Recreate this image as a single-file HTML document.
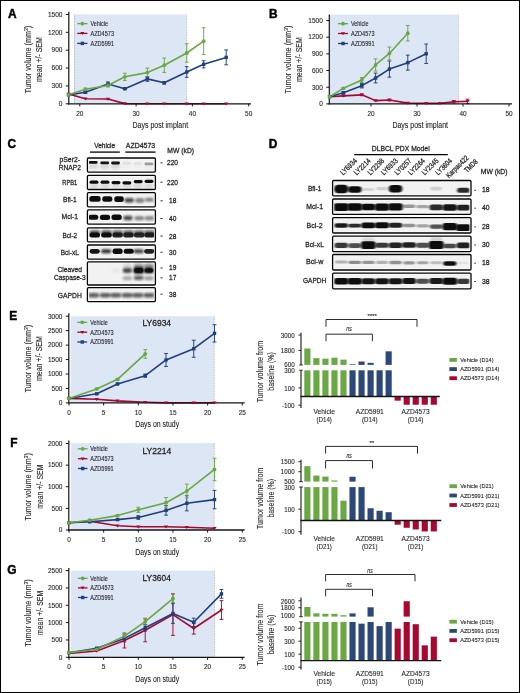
<!DOCTYPE html>
<html><head><meta charset="utf-8"><style>
html,body{margin:0;padding:0;background:#fff;}
body{width:520px;height:693px;overflow:hidden;position:relative;}
svg{position:absolute;left:0;top:0;display:block;opacity:0.999;}
text{font-family:"Liberation Sans", sans-serif;fill:#231f20;stroke:#231f20;stroke-width:0.1px;}
text.ti{stroke-width:0.3px;}
text.bl{stroke-width:0.28px;}
text.it{font-style:italic;stroke-width:0.1px;}
text.pl{fill:#000;stroke:#000;stroke-width:0.45px;}
</style></head><body>
<svg width="520" height="693" viewBox="0 0 520 693">
<defs>
<filter id="b06" x="-50%" y="-100%" width="200%" height="300%"><feGaussianBlur stdDeviation="0.72"/></filter>
<filter id="b07" x="-50%" y="-100%" width="200%" height="300%"><feGaussianBlur stdDeviation="0.7"/></filter>
<filter id="b08" x="-50%" y="-100%" width="200%" height="300%"><feGaussianBlur stdDeviation="0.85"/></filter>
<filter id="bD" x="-50%" y="-100%" width="200%" height="300%"><feGaussianBlur stdDeviation="0.9 0.62"/></filter>
<filter id="b1" x="-50%" y="-100%" width="200%" height="300%"><feGaussianBlur stdDeviation="1.1"/></filter>
<clipPath id="clipC"><rect x="88.9" y="150" width="65" height="160"/></clipPath>
<clipPath id="clipD"><rect x="334.1" y="175" width="135.4" height="120"/></clipPath>
</defs>
<rect x="0" y="0" width="520" height="693" fill="#fff"/>
<rect x="74" y="14.5" width="112.6" height="89.3" fill="#dce6f5"/>
<line x1="74.5" y1="14.5" x2="74.5" y2="103.8" stroke="#8c8c8c" stroke-width="0.6" stroke-dasharray="0.7 0.9"/>
<line x1="186.6" y1="14.5" x2="186.6" y2="103.8" stroke="#8c8c8c" stroke-width="0.6" stroke-dasharray="0.7 0.9"/>
<polyline points="68.54,93.97 85.43,98.8 107.95,99.03 124.84,103.62 147.36,103.8 164.25,103.8 186.77,103.8 203.66,103.8 226.18,103.8" fill="none" stroke="#a8082f" stroke-width="1.6" stroke-linejoin="round"/>
<polyline points="68.54,94.86 85.43,92.3 107.95,84.02 124.84,88.73 147.36,78.9 164.25,82.83 186.77,71.99 203.66,64.31 226.18,57.4" fill="none" stroke="#213f7c" stroke-width="1.6" stroke-linejoin="round"/>
<line x1="85.43" y1="91.41" x2="85.43" y2="93.2" stroke="#213f7c" stroke-width="0.95"/>
<line x1="83.53" y1="91.41" x2="87.33" y2="91.41" stroke="#213f7c" stroke-width="0.95"/>
<line x1="83.53" y1="93.2" x2="87.33" y2="93.2" stroke="#213f7c" stroke-width="0.95"/>
<line x1="107.95" y1="81.94" x2="107.95" y2="86.11" stroke="#213f7c" stroke-width="0.95"/>
<line x1="106.05" y1="81.94" x2="109.85" y2="81.94" stroke="#213f7c" stroke-width="0.95"/>
<line x1="106.05" y1="86.11" x2="109.85" y2="86.11" stroke="#213f7c" stroke-width="0.95"/>
<line x1="124.84" y1="87.84" x2="124.84" y2="89.62" stroke="#213f7c" stroke-width="0.95"/>
<line x1="122.94" y1="87.84" x2="126.74" y2="87.84" stroke="#213f7c" stroke-width="0.95"/>
<line x1="122.94" y1="89.62" x2="126.74" y2="89.62" stroke="#213f7c" stroke-width="0.95"/>
<line x1="147.36" y1="76.52" x2="147.36" y2="81.28" stroke="#213f7c" stroke-width="0.95"/>
<line x1="145.46" y1="76.52" x2="149.26" y2="76.52" stroke="#213f7c" stroke-width="0.95"/>
<line x1="145.46" y1="81.28" x2="149.26" y2="81.28" stroke="#213f7c" stroke-width="0.95"/>
<line x1="164.25" y1="81.64" x2="164.25" y2="84.02" stroke="#213f7c" stroke-width="0.95"/>
<line x1="162.35" y1="81.64" x2="166.15" y2="81.64" stroke="#213f7c" stroke-width="0.95"/>
<line x1="162.35" y1="84.02" x2="166.15" y2="84.02" stroke="#213f7c" stroke-width="0.95"/>
<line x1="186.77" y1="66.63" x2="186.77" y2="77.35" stroke="#213f7c" stroke-width="0.95"/>
<line x1="184.87" y1="66.63" x2="188.67" y2="66.63" stroke="#213f7c" stroke-width="0.95"/>
<line x1="184.87" y1="77.35" x2="188.67" y2="77.35" stroke="#213f7c" stroke-width="0.95"/>
<line x1="203.66" y1="60.73" x2="203.66" y2="67.88" stroke="#213f7c" stroke-width="0.95"/>
<line x1="201.76" y1="60.73" x2="205.56" y2="60.73" stroke="#213f7c" stroke-width="0.95"/>
<line x1="201.76" y1="67.88" x2="205.56" y2="67.88" stroke="#213f7c" stroke-width="0.95"/>
<line x1="226.18" y1="49.95" x2="226.18" y2="64.84" stroke="#213f7c" stroke-width="0.95"/>
<line x1="224.28" y1="49.95" x2="228.08" y2="49.95" stroke="#213f7c" stroke-width="0.95"/>
<line x1="224.28" y1="64.84" x2="228.08" y2="64.84" stroke="#213f7c" stroke-width="0.95"/>
<polyline points="68.54,94.86 85.43,89.33 107.95,85.45 124.84,76.82 147.36,72.59 164.25,65.2 186.77,52.99 203.66,41.2" fill="none" stroke="#6aa843" stroke-width="1.6" stroke-linejoin="round"/>
<line x1="85.43" y1="88.01" x2="85.43" y2="90.64" stroke="#6aa843" stroke-width="0.95"/>
<line x1="83.53" y1="88.01" x2="87.33" y2="88.01" stroke="#6aa843" stroke-width="0.95"/>
<line x1="83.53" y1="90.64" x2="87.33" y2="90.64" stroke="#6aa843" stroke-width="0.95"/>
<line x1="107.95" y1="83.96" x2="107.95" y2="86.94" stroke="#6aa843" stroke-width="0.95"/>
<line x1="106.05" y1="83.96" x2="109.85" y2="83.96" stroke="#6aa843" stroke-width="0.95"/>
<line x1="106.05" y1="86.94" x2="109.85" y2="86.94" stroke="#6aa843" stroke-width="0.95"/>
<line x1="124.84" y1="73.24" x2="124.84" y2="80.39" stroke="#6aa843" stroke-width="0.95"/>
<line x1="122.94" y1="73.24" x2="126.74" y2="73.24" stroke="#6aa843" stroke-width="0.95"/>
<line x1="122.94" y1="80.39" x2="126.74" y2="80.39" stroke="#6aa843" stroke-width="0.95"/>
<line x1="147.36" y1="68.12" x2="147.36" y2="77.05" stroke="#6aa843" stroke-width="0.95"/>
<line x1="145.46" y1="68.12" x2="149.26" y2="68.12" stroke="#6aa843" stroke-width="0.95"/>
<line x1="145.46" y1="77.05" x2="149.26" y2="77.05" stroke="#6aa843" stroke-width="0.95"/>
<line x1="164.25" y1="58.05" x2="164.25" y2="72.35" stroke="#6aa843" stroke-width="0.95"/>
<line x1="162.35" y1="58.05" x2="166.15" y2="58.05" stroke="#6aa843" stroke-width="0.95"/>
<line x1="162.35" y1="72.35" x2="166.15" y2="72.35" stroke="#6aa843" stroke-width="0.95"/>
<line x1="186.77" y1="43.76" x2="186.77" y2="62.22" stroke="#6aa843" stroke-width="0.95"/>
<line x1="184.87" y1="43.76" x2="188.67" y2="43.76" stroke="#6aa843" stroke-width="0.95"/>
<line x1="184.87" y1="62.22" x2="188.67" y2="62.22" stroke="#6aa843" stroke-width="0.95"/>
<line x1="203.66" y1="27.79" x2="203.66" y2="54.6" stroke="#6aa843" stroke-width="0.95"/>
<line x1="201.76" y1="27.79" x2="205.56" y2="27.79" stroke="#6aa843" stroke-width="0.95"/>
<line x1="201.76" y1="54.6" x2="205.56" y2="54.6" stroke="#6aa843" stroke-width="0.95"/>
<line x1="68.8" y1="11.8" x2="68.8" y2="104.4" stroke="#141414" stroke-width="1.2"/>
<line x1="68.2" y1="103.8" x2="251" y2="103.8" stroke="#141414" stroke-width="1.3"/>
<polygon points="66.44,92.67 70.64,92.67 68.54,95.67" fill="#a8082f"/>
<polygon points="83.33,97.5 87.53,97.5 85.43,100.5" fill="#a8082f"/>
<polygon points="105.85,97.73 110.05,97.73 107.95,100.73" fill="#a8082f"/>
<polygon points="122.74,102.32 126.94,102.32 124.84,105.32" fill="#a8082f"/>
<polygon points="145.26,102.5 149.46,102.5 147.36,105.5" fill="#a8082f"/>
<polygon points="162.15,102.5 166.35,102.5 164.25,105.5" fill="#a8082f"/>
<polygon points="184.67,102.5 188.87,102.5 186.77,105.5" fill="#a8082f"/>
<polygon points="201.56,102.5 205.76,102.5 203.66,105.5" fill="#a8082f"/>
<polygon points="224.08,102.5 228.28,102.5 226.18,105.5" fill="#a8082f"/>
<rect x="66.84" y="93.16" width="3.4" height="3.4" fill="#213f7c"/>
<rect x="83.73" y="90.6" width="3.4" height="3.4" fill="#213f7c"/>
<rect x="106.25" y="82.32" width="3.4" height="3.4" fill="#213f7c"/>
<rect x="123.14" y="87.03" width="3.4" height="3.4" fill="#213f7c"/>
<rect x="145.66" y="77.2" width="3.4" height="3.4" fill="#213f7c"/>
<rect x="162.55" y="81.13" width="3.4" height="3.4" fill="#213f7c"/>
<rect x="185.07" y="70.29" width="3.4" height="3.4" fill="#213f7c"/>
<rect x="201.96" y="62.61" width="3.4" height="3.4" fill="#213f7c"/>
<rect x="224.48" y="55.7" width="3.4" height="3.4" fill="#213f7c"/>
<circle cx="68.54" cy="94.86" r="1.9" fill="#6aa843"/>
<circle cx="85.43" cy="89.33" r="1.9" fill="#6aa843"/>
<circle cx="107.95" cy="85.45" r="1.9" fill="#6aa843"/>
<circle cx="124.84" cy="76.82" r="1.9" fill="#6aa843"/>
<circle cx="147.36" cy="72.59" r="1.9" fill="#6aa843"/>
<circle cx="164.25" cy="65.2" r="1.9" fill="#6aa843"/>
<circle cx="186.77" cy="52.99" r="1.9" fill="#6aa843"/>
<circle cx="203.66" cy="41.2" r="1.9" fill="#6aa843"/>
<line x1="65.8" y1="103.8" x2="68.8" y2="103.8" stroke="#141414" stroke-width="1.0"/>
<text x="62.4" y="106.1" font-size="6.6" text-anchor="end" textLength="3.62" lengthAdjust="spacingAndGlyphs">0</text>
<line x1="65.8" y1="85.93" x2="68.8" y2="85.93" stroke="#141414" stroke-width="1.0"/>
<text x="62.4" y="88.23" font-size="6.6" text-anchor="end" textLength="10.86" lengthAdjust="spacingAndGlyphs">300</text>
<line x1="65.8" y1="68.06" x2="68.8" y2="68.06" stroke="#141414" stroke-width="1.0"/>
<text x="62.4" y="70.36" font-size="6.6" text-anchor="end" textLength="10.86" lengthAdjust="spacingAndGlyphs">600</text>
<line x1="65.8" y1="50.19" x2="68.8" y2="50.19" stroke="#141414" stroke-width="1.0"/>
<text x="62.4" y="52.49" font-size="6.6" text-anchor="end" textLength="10.86" lengthAdjust="spacingAndGlyphs">900</text>
<line x1="65.8" y1="32.32" x2="68.8" y2="32.32" stroke="#141414" stroke-width="1.0"/>
<text x="62.4" y="34.62" font-size="6.6" text-anchor="end" textLength="14.48" lengthAdjust="spacingAndGlyphs">1200</text>
<line x1="65.8" y1="14.45" x2="68.8" y2="14.45" stroke="#141414" stroke-width="1.0"/>
<text x="62.4" y="16.75" font-size="6.6" text-anchor="end" textLength="14.48" lengthAdjust="spacingAndGlyphs">1500</text>
<line x1="79.8" y1="103.8" x2="79.8" y2="106.4" stroke="#141414" stroke-width="1.0"/>
<text x="79.8" y="116.3" font-size="6.6" text-anchor="middle" textLength="7.2" lengthAdjust="spacingAndGlyphs">20</text>
<line x1="136.1" y1="103.8" x2="136.1" y2="106.4" stroke="#141414" stroke-width="1.0"/>
<text x="136.1" y="116.3" font-size="6.6" text-anchor="middle" textLength="7.2" lengthAdjust="spacingAndGlyphs">30</text>
<line x1="192.4" y1="103.8" x2="192.4" y2="106.4" stroke="#141414" stroke-width="1.0"/>
<text x="192.4" y="116.3" font-size="6.6" text-anchor="middle" textLength="7.2" lengthAdjust="spacingAndGlyphs">40</text>
<line x1="248.7" y1="103.8" x2="248.7" y2="106.4" stroke="#141414" stroke-width="1.0"/>
<text x="248.7" y="116.3" font-size="6.6" text-anchor="middle" textLength="7.2" lengthAdjust="spacingAndGlyphs">50</text>
<text x="160.3" y="128.2" font-size="8.2" text-anchor="middle" textLength="55.6" lengthAdjust="spacingAndGlyphs">Days post implant</text>
<text x="31.1" y="59.6" font-size="8.2" text-anchor="middle" textLength="67.5" lengthAdjust="spacingAndGlyphs" transform="rotate(-90 31.1 59.6)">Tumor volume (mm<tspan dy="-2.7" font-size="5.6">3</tspan><tspan dy="2.7">)</tspan></text>
<text x="42.1" y="59.6" font-size="8.2" text-anchor="middle" textLength="45" lengthAdjust="spacingAndGlyphs" transform="rotate(-90 42.1 59.6)">mean +/- SEM</text>
<line x1="77.2" y1="23.6" x2="87.5" y2="23.6" stroke="#6aa843" stroke-width="1.3"/>
<circle cx="82.35" cy="23.6" r="1.9" fill="#6aa843"/>
<text x="90.5" y="25.9" font-size="6.6" textLength="17.5" lengthAdjust="spacingAndGlyphs">Vehicle</text>
<line x1="77.2" y1="33.4" x2="87.5" y2="33.4" stroke="#a8082f" stroke-width="1.3"/>
<polygon points="80.25,32.1 84.45,32.1 82.35,35.1" fill="#a8082f"/>
<text x="90.5" y="35.7" font-size="6.6" textLength="23.5" lengthAdjust="spacingAndGlyphs">AZD4573</text>
<line x1="77.2" y1="43.4" x2="87.5" y2="43.4" stroke="#213f7c" stroke-width="1.3"/>
<rect x="80.65" y="41.7" width="3.4" height="3.4" fill="#213f7c"/>
<text x="90.5" y="45.7" font-size="6.6" textLength="23.5" lengthAdjust="spacingAndGlyphs">AZD5991</text>
<rect x="330" y="14.6" width="128.5" height="89.3" fill="#dce6f5"/>
<line x1="458.5" y1="14.6" x2="458.5" y2="103.9" stroke="#8c8c8c" stroke-width="0.6" stroke-dasharray="0.7 0.9"/>
<polyline points="329.6,96.73 343.4,95.84 361.8,94.84 375.6,100.62 389.4,100.01 407.8,103.12 426.2,103.34 440,103.34 453.8,101.68 467.6,101.4" fill="none" stroke="#a8082f" stroke-width="1.6" stroke-linejoin="round"/>
<line x1="343.4" y1="95.28" x2="343.4" y2="96.39" stroke="#a8082f" stroke-width="0.95"/>
<line x1="341.5" y1="95.28" x2="345.3" y2="95.28" stroke="#a8082f" stroke-width="0.95"/>
<line x1="341.5" y1="96.39" x2="345.3" y2="96.39" stroke="#a8082f" stroke-width="0.95"/>
<line x1="361.8" y1="94" x2="361.8" y2="95.67" stroke="#a8082f" stroke-width="0.95"/>
<line x1="359.9" y1="94" x2="363.7" y2="94" stroke="#a8082f" stroke-width="0.95"/>
<line x1="359.9" y1="95.67" x2="363.7" y2="95.67" stroke="#a8082f" stroke-width="0.95"/>
<line x1="375.6" y1="100.34" x2="375.6" y2="100.9" stroke="#a8082f" stroke-width="0.95"/>
<line x1="373.7" y1="100.34" x2="377.5" y2="100.34" stroke="#a8082f" stroke-width="0.95"/>
<line x1="373.7" y1="100.9" x2="377.5" y2="100.9" stroke="#a8082f" stroke-width="0.95"/>
<line x1="389.4" y1="99.17" x2="389.4" y2="100.84" stroke="#a8082f" stroke-width="0.95"/>
<line x1="387.5" y1="99.17" x2="391.3" y2="99.17" stroke="#a8082f" stroke-width="0.95"/>
<line x1="387.5" y1="100.84" x2="391.3" y2="100.84" stroke="#a8082f" stroke-width="0.95"/>
<line x1="453.8" y1="100.56" x2="453.8" y2="102.79" stroke="#a8082f" stroke-width="0.95"/>
<line x1="451.9" y1="100.56" x2="455.7" y2="100.56" stroke="#a8082f" stroke-width="0.95"/>
<line x1="451.9" y1="102.79" x2="455.7" y2="102.79" stroke="#a8082f" stroke-width="0.95"/>
<line x1="467.6" y1="99.17" x2="467.6" y2="103.62" stroke="#a8082f" stroke-width="0.95"/>
<line x1="465.7" y1="99.17" x2="469.5" y2="99.17" stroke="#a8082f" stroke-width="0.95"/>
<line x1="465.7" y1="103.62" x2="469.5" y2="103.62" stroke="#a8082f" stroke-width="0.95"/>
<polyline points="329.6,96.73 343.4,92.72 361.8,85.66 375.6,77.99 389.4,69.09 407.8,62.64 426.2,53.75" fill="none" stroke="#213f7c" stroke-width="1.6" stroke-linejoin="round"/>
<line x1="343.4" y1="91.61" x2="343.4" y2="93.84" stroke="#213f7c" stroke-width="0.95"/>
<line x1="341.5" y1="91.61" x2="345.3" y2="91.61" stroke="#213f7c" stroke-width="0.95"/>
<line x1="341.5" y1="93.84" x2="345.3" y2="93.84" stroke="#213f7c" stroke-width="0.95"/>
<line x1="361.8" y1="83.44" x2="361.8" y2="87.89" stroke="#213f7c" stroke-width="0.95"/>
<line x1="359.9" y1="83.44" x2="363.7" y2="83.44" stroke="#213f7c" stroke-width="0.95"/>
<line x1="359.9" y1="87.89" x2="363.7" y2="87.89" stroke="#213f7c" stroke-width="0.95"/>
<line x1="375.6" y1="73.1" x2="375.6" y2="82.88" stroke="#213f7c" stroke-width="0.95"/>
<line x1="373.7" y1="73.1" x2="377.5" y2="73.1" stroke="#213f7c" stroke-width="0.95"/>
<line x1="373.7" y1="82.88" x2="377.5" y2="82.88" stroke="#213f7c" stroke-width="0.95"/>
<line x1="389.4" y1="61.03" x2="389.4" y2="77.16" stroke="#213f7c" stroke-width="0.95"/>
<line x1="387.5" y1="61.03" x2="391.3" y2="61.03" stroke="#213f7c" stroke-width="0.95"/>
<line x1="387.5" y1="77.16" x2="391.3" y2="77.16" stroke="#213f7c" stroke-width="0.95"/>
<line x1="407.8" y1="55.14" x2="407.8" y2="70.15" stroke="#213f7c" stroke-width="0.95"/>
<line x1="405.9" y1="55.14" x2="409.7" y2="55.14" stroke="#213f7c" stroke-width="0.95"/>
<line x1="405.9" y1="70.15" x2="409.7" y2="70.15" stroke="#213f7c" stroke-width="0.95"/>
<line x1="426.2" y1="44.02" x2="426.2" y2="63.48" stroke="#213f7c" stroke-width="0.95"/>
<line x1="424.3" y1="44.02" x2="428.1" y2="44.02" stroke="#213f7c" stroke-width="0.95"/>
<line x1="424.3" y1="63.48" x2="428.1" y2="63.48" stroke="#213f7c" stroke-width="0.95"/>
<polyline points="329.6,96.73 343.4,88.33 361.8,79.99 375.6,64.92 389.4,53.47 407.8,33.23" fill="none" stroke="#6aa843" stroke-width="1.6" stroke-linejoin="round"/>
<line x1="343.4" y1="87.5" x2="343.4" y2="89.17" stroke="#6aa843" stroke-width="0.95"/>
<line x1="341.5" y1="87.5" x2="345.3" y2="87.5" stroke="#6aa843" stroke-width="0.95"/>
<line x1="341.5" y1="89.17" x2="345.3" y2="89.17" stroke="#6aa843" stroke-width="0.95"/>
<line x1="361.8" y1="77.49" x2="361.8" y2="82.49" stroke="#6aa843" stroke-width="0.95"/>
<line x1="359.9" y1="77.49" x2="363.7" y2="77.49" stroke="#6aa843" stroke-width="0.95"/>
<line x1="359.9" y1="82.49" x2="363.7" y2="82.49" stroke="#6aa843" stroke-width="0.95"/>
<line x1="375.6" y1="58.81" x2="375.6" y2="71.04" stroke="#6aa843" stroke-width="0.95"/>
<line x1="373.7" y1="58.81" x2="377.5" y2="58.81" stroke="#6aa843" stroke-width="0.95"/>
<line x1="373.7" y1="71.04" x2="377.5" y2="71.04" stroke="#6aa843" stroke-width="0.95"/>
<line x1="389.4" y1="47.08" x2="389.4" y2="59.86" stroke="#6aa843" stroke-width="0.95"/>
<line x1="387.5" y1="47.08" x2="391.3" y2="47.08" stroke="#6aa843" stroke-width="0.95"/>
<line x1="387.5" y1="59.86" x2="391.3" y2="59.86" stroke="#6aa843" stroke-width="0.95"/>
<line x1="407.8" y1="25.45" x2="407.8" y2="41.02" stroke="#6aa843" stroke-width="0.95"/>
<line x1="405.9" y1="25.45" x2="409.7" y2="25.45" stroke="#6aa843" stroke-width="0.95"/>
<line x1="405.9" y1="41.02" x2="409.7" y2="41.02" stroke="#6aa843" stroke-width="0.95"/>
<line x1="329.3" y1="14.4" x2="329.3" y2="104.5" stroke="#141414" stroke-width="1.2"/>
<line x1="328.7" y1="103.9" x2="512" y2="103.9" stroke="#141414" stroke-width="1.3"/>
<polygon points="327.5,95.43 331.7,95.43 329.6,98.43" fill="#a8082f"/>
<polygon points="341.3,94.54 345.5,94.54 343.4,97.54" fill="#a8082f"/>
<polygon points="359.7,93.54 363.9,93.54 361.8,96.54" fill="#a8082f"/>
<polygon points="373.5,99.32 377.7,99.32 375.6,102.32" fill="#a8082f"/>
<polygon points="387.3,98.71 391.5,98.71 389.4,101.71" fill="#a8082f"/>
<polygon points="405.7,101.82 409.9,101.82 407.8,104.82" fill="#a8082f"/>
<polygon points="424.1,102.04 428.3,102.04 426.2,105.04" fill="#a8082f"/>
<polygon points="437.9,102.04 442.1,102.04 440,105.04" fill="#a8082f"/>
<polygon points="451.7,100.38 455.9,100.38 453.8,103.38" fill="#a8082f"/>
<polygon points="465.5,100.1 469.7,100.1 467.6,103.1" fill="#a8082f"/>
<rect x="327.9" y="95.03" width="3.4" height="3.4" fill="#213f7c"/>
<rect x="341.7" y="91.02" width="3.4" height="3.4" fill="#213f7c"/>
<rect x="360.1" y="83.96" width="3.4" height="3.4" fill="#213f7c"/>
<rect x="373.9" y="76.29" width="3.4" height="3.4" fill="#213f7c"/>
<rect x="387.7" y="67.39" width="3.4" height="3.4" fill="#213f7c"/>
<rect x="406.1" y="60.94" width="3.4" height="3.4" fill="#213f7c"/>
<rect x="424.5" y="52.05" width="3.4" height="3.4" fill="#213f7c"/>
<circle cx="329.6" cy="96.73" r="1.9" fill="#6aa843"/>
<circle cx="343.4" cy="88.33" r="1.9" fill="#6aa843"/>
<circle cx="361.8" cy="79.99" r="1.9" fill="#6aa843"/>
<circle cx="375.6" cy="64.92" r="1.9" fill="#6aa843"/>
<circle cx="389.4" cy="53.47" r="1.9" fill="#6aa843"/>
<circle cx="407.8" cy="33.23" r="1.9" fill="#6aa843"/>
<line x1="326.3" y1="103.9" x2="329.3" y2="103.9" stroke="#141414" stroke-width="1.0"/>
<text x="322.8" y="106.2" font-size="6.6" text-anchor="end" textLength="3.62" lengthAdjust="spacingAndGlyphs">0</text>
<line x1="326.3" y1="87.22" x2="329.3" y2="87.22" stroke="#141414" stroke-width="1.0"/>
<text x="322.8" y="89.52" font-size="6.6" text-anchor="end" textLength="10.86" lengthAdjust="spacingAndGlyphs">300</text>
<line x1="326.3" y1="70.54" x2="329.3" y2="70.54" stroke="#141414" stroke-width="1.0"/>
<text x="322.8" y="72.84" font-size="6.6" text-anchor="end" textLength="10.86" lengthAdjust="spacingAndGlyphs">600</text>
<line x1="326.3" y1="53.86" x2="329.3" y2="53.86" stroke="#141414" stroke-width="1.0"/>
<text x="322.8" y="56.16" font-size="6.6" text-anchor="end" textLength="10.86" lengthAdjust="spacingAndGlyphs">900</text>
<line x1="326.3" y1="37.18" x2="329.3" y2="37.18" stroke="#141414" stroke-width="1.0"/>
<text x="322.8" y="39.48" font-size="6.6" text-anchor="end" textLength="14.48" lengthAdjust="spacingAndGlyphs">1200</text>
<line x1="326.3" y1="20.5" x2="329.3" y2="20.5" stroke="#141414" stroke-width="1.0"/>
<text x="322.8" y="22.8" font-size="6.6" text-anchor="end" textLength="14.48" lengthAdjust="spacingAndGlyphs">1500</text>
<line x1="371" y1="103.9" x2="371" y2="106.5" stroke="#141414" stroke-width="1.0"/>
<text x="371" y="116.3" font-size="6.6" text-anchor="middle" textLength="7.2" lengthAdjust="spacingAndGlyphs">20</text>
<line x1="417" y1="103.9" x2="417" y2="106.5" stroke="#141414" stroke-width="1.0"/>
<text x="417" y="116.3" font-size="6.6" text-anchor="middle" textLength="7.2" lengthAdjust="spacingAndGlyphs">30</text>
<line x1="463" y1="103.9" x2="463" y2="106.5" stroke="#141414" stroke-width="1.0"/>
<text x="463" y="116.3" font-size="6.6" text-anchor="middle" textLength="7.2" lengthAdjust="spacingAndGlyphs">40</text>
<line x1="509" y1="103.9" x2="509" y2="106.5" stroke="#141414" stroke-width="1.0"/>
<text x="509" y="116.3" font-size="6.6" text-anchor="middle" textLength="7.2" lengthAdjust="spacingAndGlyphs">50</text>
<text x="420.2" y="128.2" font-size="8.2" text-anchor="middle" textLength="55.6" lengthAdjust="spacingAndGlyphs">Days post implant</text>
<text x="290.9" y="59.6" font-size="8.2" text-anchor="middle" textLength="68" lengthAdjust="spacingAndGlyphs" transform="rotate(-90 290.9 59.6)">Tumor volume (mm<tspan dy="-2.7" font-size="5.6">3</tspan><tspan dy="2.7">)</tspan></text>
<text x="302.2" y="59.6" font-size="8.2" text-anchor="middle" textLength="45" lengthAdjust="spacingAndGlyphs" transform="rotate(-90 302.2 59.6)">mean +/- SEM</text>
<line x1="338" y1="23.65" x2="348" y2="23.65" stroke="#6aa843" stroke-width="1.3"/>
<circle cx="343" cy="23.65" r="1.9" fill="#6aa843"/>
<text x="351" y="25.95" font-size="6.6" textLength="17.5" lengthAdjust="spacingAndGlyphs">Vehicle</text>
<line x1="338" y1="33.5" x2="348" y2="33.5" stroke="#a8082f" stroke-width="1.3"/>
<polygon points="340.9,32.2 345.1,32.2 343,35.2" fill="#a8082f"/>
<text x="351" y="35.8" font-size="6.6" textLength="23.5" lengthAdjust="spacingAndGlyphs">AZD4573</text>
<line x1="338" y1="43.5" x2="348" y2="43.5" stroke="#213f7c" stroke-width="1.3"/>
<rect x="341.3" y="41.8" width="3.4" height="3.4" fill="#213f7c"/>
<text x="351" y="45.8" font-size="6.6" textLength="23.5" lengthAdjust="spacingAndGlyphs">AZD5991</text>
<rect x="70.6" y="316.2" width="143.7" height="86.7" fill="#dce6f5"/>
<line x1="214.3" y1="316.2" x2="214.3" y2="402.9" stroke="#8c8c8c" stroke-width="0.6" stroke-dasharray="0.7 0.9"/>
<polyline points="69,398.42 96.72,399.32 117.51,400.88 145.23,402.18 166.02,402.9 193.74,402.9 214.53,402.9" fill="none" stroke="#a8082f" stroke-width="1.6" stroke-linejoin="round"/>
<polyline points="69,398.42 96.72,393.83 117.51,383.94 145.23,375.65 166.02,359.98 193.74,348.71 214.53,333.34" fill="none" stroke="#213f7c" stroke-width="1.6" stroke-linejoin="round"/>
<line x1="96.72" y1="393.25" x2="96.72" y2="394.4" stroke="#213f7c" stroke-width="0.95"/>
<line x1="94.82" y1="393.25" x2="98.62" y2="393.25" stroke="#213f7c" stroke-width="0.95"/>
<line x1="94.82" y1="394.4" x2="98.62" y2="394.4" stroke="#213f7c" stroke-width="0.95"/>
<line x1="117.51" y1="383.07" x2="117.51" y2="384.81" stroke="#213f7c" stroke-width="0.95"/>
<line x1="115.61" y1="383.07" x2="119.41" y2="383.07" stroke="#213f7c" stroke-width="0.95"/>
<line x1="115.61" y1="384.81" x2="119.41" y2="384.81" stroke="#213f7c" stroke-width="0.95"/>
<line x1="145.23" y1="374.06" x2="145.23" y2="377.24" stroke="#213f7c" stroke-width="0.95"/>
<line x1="143.33" y1="374.06" x2="147.13" y2="374.06" stroke="#213f7c" stroke-width="0.95"/>
<line x1="143.33" y1="377.24" x2="147.13" y2="377.24" stroke="#213f7c" stroke-width="0.95"/>
<line x1="166.02" y1="353.48" x2="166.02" y2="366.49" stroke="#213f7c" stroke-width="0.95"/>
<line x1="164.12" y1="353.48" x2="167.92" y2="353.48" stroke="#213f7c" stroke-width="0.95"/>
<line x1="164.12" y1="366.49" x2="167.92" y2="366.49" stroke="#213f7c" stroke-width="0.95"/>
<line x1="193.74" y1="340.19" x2="193.74" y2="357.24" stroke="#213f7c" stroke-width="0.95"/>
<line x1="191.84" y1="340.19" x2="195.64" y2="340.19" stroke="#213f7c" stroke-width="0.95"/>
<line x1="191.84" y1="357.24" x2="195.64" y2="357.24" stroke="#213f7c" stroke-width="0.95"/>
<line x1="214.53" y1="324.67" x2="214.53" y2="342.01" stroke="#213f7c" stroke-width="0.95"/>
<line x1="212.63" y1="324.67" x2="216.43" y2="324.67" stroke="#213f7c" stroke-width="0.95"/>
<line x1="212.63" y1="342.01" x2="216.43" y2="342.01" stroke="#213f7c" stroke-width="0.95"/>
<polyline points="69,398.42 96.72,388.94 117.51,379.35 145.23,353.91" fill="none" stroke="#6aa843" stroke-width="1.6" stroke-linejoin="round"/>
<line x1="96.72" y1="388.36" x2="96.72" y2="389.52" stroke="#6aa843" stroke-width="0.95"/>
<line x1="94.82" y1="388.36" x2="98.62" y2="388.36" stroke="#6aa843" stroke-width="0.95"/>
<line x1="94.82" y1="389.52" x2="98.62" y2="389.52" stroke="#6aa843" stroke-width="0.95"/>
<line x1="117.51" y1="378.48" x2="117.51" y2="380.21" stroke="#6aa843" stroke-width="0.95"/>
<line x1="115.61" y1="378.48" x2="119.41" y2="378.48" stroke="#6aa843" stroke-width="0.95"/>
<line x1="115.61" y1="380.21" x2="119.41" y2="380.21" stroke="#6aa843" stroke-width="0.95"/>
<line x1="145.23" y1="349.58" x2="145.23" y2="358.25" stroke="#6aa843" stroke-width="0.95"/>
<line x1="143.33" y1="349.58" x2="147.13" y2="349.58" stroke="#6aa843" stroke-width="0.95"/>
<line x1="143.33" y1="358.25" x2="147.13" y2="358.25" stroke="#6aa843" stroke-width="0.95"/>
<line x1="68.8" y1="313.3" x2="68.8" y2="403.5" stroke="#141414" stroke-width="1.2"/>
<line x1="68.2" y1="402.9" x2="244.6" y2="402.9" stroke="#141414" stroke-width="1.3"/>
<polygon points="66.9,397.12 71.1,397.12 69,400.12" fill="#a8082f"/>
<polygon points="94.62,398.02 98.82,398.02 96.72,401.02" fill="#a8082f"/>
<polygon points="115.41,399.58 119.61,399.58 117.51,402.58" fill="#a8082f"/>
<polygon points="143.13,400.88 147.33,400.88 145.23,403.88" fill="#a8082f"/>
<polygon points="163.92,401.6 168.12,401.6 166.02,404.6" fill="#a8082f"/>
<polygon points="191.64,401.6 195.84,401.6 193.74,404.6" fill="#a8082f"/>
<polygon points="212.43,401.6 216.63,401.6 214.53,404.6" fill="#a8082f"/>
<rect x="67.3" y="396.72" width="3.4" height="3.4" fill="#213f7c"/>
<rect x="95.02" y="392.13" width="3.4" height="3.4" fill="#213f7c"/>
<rect x="115.81" y="382.24" width="3.4" height="3.4" fill="#213f7c"/>
<rect x="143.53" y="373.95" width="3.4" height="3.4" fill="#213f7c"/>
<rect x="164.32" y="358.28" width="3.4" height="3.4" fill="#213f7c"/>
<rect x="192.04" y="347.01" width="3.4" height="3.4" fill="#213f7c"/>
<rect x="212.83" y="331.64" width="3.4" height="3.4" fill="#213f7c"/>
<circle cx="69" cy="398.42" r="1.9" fill="#6aa843"/>
<circle cx="96.72" cy="388.94" r="1.9" fill="#6aa843"/>
<circle cx="117.51" cy="379.35" r="1.9" fill="#6aa843"/>
<circle cx="145.23" cy="353.91" r="1.9" fill="#6aa843"/>
<line x1="65.8" y1="402.9" x2="68.8" y2="402.9" stroke="#141414" stroke-width="1.0"/>
<text x="62.4" y="405.2" font-size="6.6" text-anchor="end" textLength="3.62" lengthAdjust="spacingAndGlyphs">0</text>
<line x1="65.8" y1="388.45" x2="68.8" y2="388.45" stroke="#141414" stroke-width="1.0"/>
<text x="62.4" y="390.75" font-size="6.6" text-anchor="end" textLength="10.86" lengthAdjust="spacingAndGlyphs">500</text>
<line x1="65.8" y1="374" x2="68.8" y2="374" stroke="#141414" stroke-width="1.0"/>
<text x="62.4" y="376.3" font-size="6.6" text-anchor="end" textLength="14.48" lengthAdjust="spacingAndGlyphs">1000</text>
<line x1="65.8" y1="359.55" x2="68.8" y2="359.55" stroke="#141414" stroke-width="1.0"/>
<text x="62.4" y="361.85" font-size="6.6" text-anchor="end" textLength="14.48" lengthAdjust="spacingAndGlyphs">1500</text>
<line x1="65.8" y1="345.1" x2="68.8" y2="345.1" stroke="#141414" stroke-width="1.0"/>
<text x="62.4" y="347.4" font-size="6.6" text-anchor="end" textLength="14.48" lengthAdjust="spacingAndGlyphs">2000</text>
<line x1="65.8" y1="330.65" x2="68.8" y2="330.65" stroke="#141414" stroke-width="1.0"/>
<text x="62.4" y="332.95" font-size="6.6" text-anchor="end" textLength="14.48" lengthAdjust="spacingAndGlyphs">2500</text>
<line x1="65.8" y1="316.2" x2="68.8" y2="316.2" stroke="#141414" stroke-width="1.0"/>
<text x="62.4" y="318.5" font-size="6.6" text-anchor="end" textLength="14.48" lengthAdjust="spacingAndGlyphs">3000</text>
<line x1="69" y1="402.9" x2="69" y2="405.5" stroke="#141414" stroke-width="1.0"/>
<text x="69" y="415" font-size="6.6" text-anchor="middle" textLength="3.6" lengthAdjust="spacingAndGlyphs">0</text>
<line x1="103.65" y1="402.9" x2="103.65" y2="405.5" stroke="#141414" stroke-width="1.0"/>
<text x="103.65" y="415" font-size="6.6" text-anchor="middle" textLength="3.6" lengthAdjust="spacingAndGlyphs">5</text>
<line x1="138.3" y1="402.9" x2="138.3" y2="405.5" stroke="#141414" stroke-width="1.0"/>
<text x="138.3" y="415" font-size="6.6" text-anchor="middle" textLength="7.2" lengthAdjust="spacingAndGlyphs">10</text>
<line x1="172.95" y1="402.9" x2="172.95" y2="405.5" stroke="#141414" stroke-width="1.0"/>
<text x="172.95" y="415" font-size="6.6" text-anchor="middle" textLength="7.2" lengthAdjust="spacingAndGlyphs">15</text>
<line x1="207.6" y1="402.9" x2="207.6" y2="405.5" stroke="#141414" stroke-width="1.0"/>
<text x="207.6" y="415" font-size="6.6" text-anchor="middle" textLength="7.2" lengthAdjust="spacingAndGlyphs">20</text>
<line x1="242.25" y1="402.9" x2="242.25" y2="405.5" stroke="#141414" stroke-width="1.0"/>
<text x="242.25" y="415" font-size="6.6" text-anchor="middle" textLength="7.2" lengthAdjust="spacingAndGlyphs">25</text>
<text x="157.2" y="427.3" font-size="8.2" text-anchor="middle" textLength="44" lengthAdjust="spacingAndGlyphs">Days on study</text>
<text x="30.6" y="358.6" font-size="8.2" text-anchor="middle" textLength="67.5" lengthAdjust="spacingAndGlyphs" transform="rotate(-90 30.6 358.6)">Tumor volume (mm<tspan dy="-2.7" font-size="5.6">3</tspan><tspan dy="2.7">)</tspan></text>
<text x="42.4" y="358.6" font-size="8.2" text-anchor="middle" textLength="45" lengthAdjust="spacingAndGlyphs" transform="rotate(-90 42.4 358.6)">mean +/- SEM</text>
<line x1="77.3" y1="322.3" x2="87.2" y2="322.3" stroke="#6aa843" stroke-width="1.3"/>
<circle cx="82.25" cy="322.3" r="1.9" fill="#6aa843"/>
<text x="90.2" y="324.6" font-size="6.6" textLength="17.5" lengthAdjust="spacingAndGlyphs">Vehicle</text>
<line x1="77.3" y1="332.2" x2="87.2" y2="332.2" stroke="#a8082f" stroke-width="1.3"/>
<polygon points="80.15,330.9 84.35,330.9 82.25,333.9" fill="#a8082f"/>
<text x="90.2" y="334.5" font-size="6.6" textLength="23.5" lengthAdjust="spacingAndGlyphs">AZD4573</text>
<line x1="77.3" y1="342" x2="87.2" y2="342" stroke="#213f7c" stroke-width="1.3"/>
<rect x="80.55" y="340.3" width="3.4" height="3.4" fill="#213f7c"/>
<text x="90.2" y="344.3" font-size="6.6" textLength="23.5" lengthAdjust="spacingAndGlyphs">AZD5991</text>
<text x="142.5" y="325.9" font-size="9.4" class="ti" textLength="28.6" lengthAdjust="spacingAndGlyphs">LY6934</text>
<rect x="70.8" y="443.1" width="143.5" height="86.9" fill="#dce6f5"/>
<line x1="214.3" y1="443.1" x2="214.3" y2="530" stroke="#8c8c8c" stroke-width="0.6" stroke-dasharray="0.7 0.9"/>
<polyline points="69,522.69 89.79,521.17 117.51,525.8 138.3,526.71 166.02,526.71 186.81,527.32 214.53,528.18" fill="none" stroke="#a8082f" stroke-width="1.6" stroke-linejoin="round"/>
<polyline points="69,522.69 89.79,521.78 117.51,519.62 138.3,517.5 166.02,510.4 186.81,503.31 214.53,499.59" fill="none" stroke="#213f7c" stroke-width="1.6" stroke-linejoin="round"/>
<line x1="117.51" y1="518.97" x2="117.51" y2="520.27" stroke="#213f7c" stroke-width="0.95"/>
<line x1="115.61" y1="518.97" x2="119.41" y2="518.97" stroke="#213f7c" stroke-width="0.95"/>
<line x1="115.61" y1="520.27" x2="119.41" y2="520.27" stroke="#213f7c" stroke-width="0.95"/>
<line x1="138.3" y1="515.77" x2="138.3" y2="519.23" stroke="#213f7c" stroke-width="0.95"/>
<line x1="136.4" y1="515.77" x2="140.2" y2="515.77" stroke="#213f7c" stroke-width="0.95"/>
<line x1="136.4" y1="519.23" x2="140.2" y2="519.23" stroke="#213f7c" stroke-width="0.95"/>
<line x1="166.02" y1="505.64" x2="166.02" y2="515.16" stroke="#213f7c" stroke-width="0.95"/>
<line x1="164.12" y1="505.64" x2="167.92" y2="505.64" stroke="#213f7c" stroke-width="0.95"/>
<line x1="164.12" y1="515.16" x2="167.92" y2="515.16" stroke="#213f7c" stroke-width="0.95"/>
<line x1="186.81" y1="495.74" x2="186.81" y2="510.88" stroke="#213f7c" stroke-width="0.95"/>
<line x1="184.91" y1="495.74" x2="188.71" y2="495.74" stroke="#213f7c" stroke-width="0.95"/>
<line x1="184.91" y1="510.88" x2="188.71" y2="510.88" stroke="#213f7c" stroke-width="0.95"/>
<line x1="214.53" y1="490.42" x2="214.53" y2="508.76" stroke="#213f7c" stroke-width="0.95"/>
<line x1="212.63" y1="490.42" x2="216.43" y2="490.42" stroke="#213f7c" stroke-width="0.95"/>
<line x1="212.63" y1="508.76" x2="216.43" y2="508.76" stroke="#213f7c" stroke-width="0.95"/>
<polyline points="69,522.69 89.79,520.18 117.51,515.59 138.3,509.8 166.02,502.7 186.81,491.02 214.53,469.48" fill="none" stroke="#6aa843" stroke-width="1.6" stroke-linejoin="round"/>
<line x1="89.79" y1="519.75" x2="89.79" y2="520.61" stroke="#6aa843" stroke-width="0.95"/>
<line x1="87.89" y1="519.75" x2="91.69" y2="519.75" stroke="#6aa843" stroke-width="0.95"/>
<line x1="87.89" y1="520.61" x2="91.69" y2="520.61" stroke="#6aa843" stroke-width="0.95"/>
<line x1="117.51" y1="514.51" x2="117.51" y2="516.68" stroke="#6aa843" stroke-width="0.95"/>
<line x1="115.61" y1="514.51" x2="119.41" y2="514.51" stroke="#6aa843" stroke-width="0.95"/>
<line x1="115.61" y1="516.68" x2="119.41" y2="516.68" stroke="#6aa843" stroke-width="0.95"/>
<line x1="138.3" y1="507.2" x2="138.3" y2="512.39" stroke="#6aa843" stroke-width="0.95"/>
<line x1="136.4" y1="507.2" x2="140.2" y2="507.2" stroke="#6aa843" stroke-width="0.95"/>
<line x1="136.4" y1="512.39" x2="140.2" y2="512.39" stroke="#6aa843" stroke-width="0.95"/>
<line x1="166.02" y1="497.51" x2="166.02" y2="507.89" stroke="#6aa843" stroke-width="0.95"/>
<line x1="164.12" y1="497.51" x2="167.92" y2="497.51" stroke="#6aa843" stroke-width="0.95"/>
<line x1="164.12" y1="507.89" x2="167.92" y2="507.89" stroke="#6aa843" stroke-width="0.95"/>
<line x1="186.81" y1="484.1" x2="186.81" y2="497.94" stroke="#6aa843" stroke-width="0.95"/>
<line x1="184.91" y1="484.1" x2="188.71" y2="484.1" stroke="#6aa843" stroke-width="0.95"/>
<line x1="184.91" y1="497.94" x2="188.71" y2="497.94" stroke="#6aa843" stroke-width="0.95"/>
<line x1="214.53" y1="458.23" x2="214.53" y2="480.73" stroke="#6aa843" stroke-width="0.95"/>
<line x1="212.63" y1="458.23" x2="216.43" y2="458.23" stroke="#6aa843" stroke-width="0.95"/>
<line x1="212.63" y1="480.73" x2="216.43" y2="480.73" stroke="#6aa843" stroke-width="0.95"/>
<line x1="68.8" y1="440.6" x2="68.8" y2="530.6" stroke="#141414" stroke-width="1.2"/>
<line x1="68.2" y1="530" x2="244.6" y2="530" stroke="#141414" stroke-width="1.3"/>
<polygon points="66.9,521.39 71.1,521.39 69,524.39" fill="#a8082f"/>
<polygon points="87.69,519.87 91.89,519.87 89.79,522.87" fill="#a8082f"/>
<polygon points="115.41,524.5 119.61,524.5 117.51,527.5" fill="#a8082f"/>
<polygon points="136.2,525.41 140.4,525.41 138.3,528.41" fill="#a8082f"/>
<polygon points="163.92,525.41 168.12,525.41 166.02,528.41" fill="#a8082f"/>
<polygon points="184.71,526.02 188.91,526.02 186.81,529.02" fill="#a8082f"/>
<polygon points="212.43,526.88 216.63,526.88 214.53,529.88" fill="#a8082f"/>
<rect x="67.3" y="520.99" width="3.4" height="3.4" fill="#213f7c"/>
<rect x="88.09" y="520.08" width="3.4" height="3.4" fill="#213f7c"/>
<rect x="115.81" y="517.92" width="3.4" height="3.4" fill="#213f7c"/>
<rect x="136.6" y="515.8" width="3.4" height="3.4" fill="#213f7c"/>
<rect x="164.32" y="508.7" width="3.4" height="3.4" fill="#213f7c"/>
<rect x="185.11" y="501.61" width="3.4" height="3.4" fill="#213f7c"/>
<rect x="212.83" y="497.89" width="3.4" height="3.4" fill="#213f7c"/>
<circle cx="69" cy="522.69" r="1.9" fill="#6aa843"/>
<circle cx="89.79" cy="520.18" r="1.9" fill="#6aa843"/>
<circle cx="117.51" cy="515.59" r="1.9" fill="#6aa843"/>
<circle cx="138.3" cy="509.8" r="1.9" fill="#6aa843"/>
<circle cx="166.02" cy="502.7" r="1.9" fill="#6aa843"/>
<circle cx="186.81" cy="491.02" r="1.9" fill="#6aa843"/>
<circle cx="214.53" cy="469.48" r="1.9" fill="#6aa843"/>
<line x1="65.8" y1="530" x2="68.8" y2="530" stroke="#141414" stroke-width="1.0"/>
<text x="62.4" y="532.3" font-size="6.6" text-anchor="end" textLength="3.62" lengthAdjust="spacingAndGlyphs">0</text>
<line x1="65.8" y1="508.37" x2="68.8" y2="508.37" stroke="#141414" stroke-width="1.0"/>
<text x="62.4" y="510.67" font-size="6.6" text-anchor="end" textLength="10.86" lengthAdjust="spacingAndGlyphs">500</text>
<line x1="65.8" y1="486.74" x2="68.8" y2="486.74" stroke="#141414" stroke-width="1.0"/>
<text x="62.4" y="489.04" font-size="6.6" text-anchor="end" textLength="14.48" lengthAdjust="spacingAndGlyphs">1000</text>
<line x1="65.8" y1="465.11" x2="68.8" y2="465.11" stroke="#141414" stroke-width="1.0"/>
<text x="62.4" y="467.41" font-size="6.6" text-anchor="end" textLength="14.48" lengthAdjust="spacingAndGlyphs">1500</text>
<line x1="65.8" y1="443.48" x2="68.8" y2="443.48" stroke="#141414" stroke-width="1.0"/>
<text x="62.4" y="445.78" font-size="6.6" text-anchor="end" textLength="14.48" lengthAdjust="spacingAndGlyphs">2000</text>
<line x1="69" y1="530" x2="69" y2="532.6" stroke="#141414" stroke-width="1.0"/>
<text x="69" y="542.4" font-size="6.6" text-anchor="middle" textLength="3.6" lengthAdjust="spacingAndGlyphs">0</text>
<line x1="103.65" y1="530" x2="103.65" y2="532.6" stroke="#141414" stroke-width="1.0"/>
<text x="103.65" y="542.4" font-size="6.6" text-anchor="middle" textLength="3.6" lengthAdjust="spacingAndGlyphs">5</text>
<line x1="138.3" y1="530" x2="138.3" y2="532.6" stroke="#141414" stroke-width="1.0"/>
<text x="138.3" y="542.4" font-size="6.6" text-anchor="middle" textLength="7.2" lengthAdjust="spacingAndGlyphs">10</text>
<line x1="172.95" y1="530" x2="172.95" y2="532.6" stroke="#141414" stroke-width="1.0"/>
<text x="172.95" y="542.4" font-size="6.6" text-anchor="middle" textLength="7.2" lengthAdjust="spacingAndGlyphs">15</text>
<line x1="207.6" y1="530" x2="207.6" y2="532.6" stroke="#141414" stroke-width="1.0"/>
<text x="207.6" y="542.4" font-size="6.6" text-anchor="middle" textLength="7.2" lengthAdjust="spacingAndGlyphs">20</text>
<line x1="242.25" y1="530" x2="242.25" y2="532.6" stroke="#141414" stroke-width="1.0"/>
<text x="242.25" y="542.4" font-size="6.6" text-anchor="middle" textLength="7.2" lengthAdjust="spacingAndGlyphs">25</text>
<text x="157.2" y="554.6" font-size="8.2" text-anchor="middle" textLength="44" lengthAdjust="spacingAndGlyphs">Days on study</text>
<text x="30.8" y="486.7" font-size="8.2" text-anchor="middle" textLength="67.4" lengthAdjust="spacingAndGlyphs" transform="rotate(-90 30.8 486.7)">Tumor volume (mm<tspan dy="-2.7" font-size="5.6">3</tspan><tspan dy="2.7">)</tspan></text>
<text x="42.9" y="486.7" font-size="8.2" text-anchor="middle" textLength="44.2" lengthAdjust="spacingAndGlyphs" transform="rotate(-90 42.9 486.7)">mean +/- SEM</text>
<line x1="77.9" y1="448.8" x2="87.5" y2="448.8" stroke="#6aa843" stroke-width="1.3"/>
<circle cx="82.7" cy="448.8" r="1.9" fill="#6aa843"/>
<text x="90.2" y="451.1" font-size="6.6" textLength="17.5" lengthAdjust="spacingAndGlyphs">Vehicle</text>
<line x1="77.9" y1="458.7" x2="87.5" y2="458.7" stroke="#a8082f" stroke-width="1.3"/>
<polygon points="80.6,457.4 84.8,457.4 82.7,460.4" fill="#a8082f"/>
<text x="90.2" y="461" font-size="6.6" textLength="23.5" lengthAdjust="spacingAndGlyphs">AZD4573</text>
<line x1="77.9" y1="468.5" x2="87.5" y2="468.5" stroke="#213f7c" stroke-width="1.3"/>
<rect x="81" y="466.8" width="3.4" height="3.4" fill="#213f7c"/>
<text x="90.2" y="470.8" font-size="6.6" textLength="23.5" lengthAdjust="spacingAndGlyphs">AZD5991</text>
<text x="142.4" y="454" font-size="9.4" class="ti" textLength="28.8" lengthAdjust="spacingAndGlyphs">LY2214</text>
<rect x="70.8" y="570.6" width="143.7" height="86.7" fill="#dce6f5"/>
<line x1="214.5" y1="570.6" x2="214.5" y2="657.3" stroke="#8c8c8c" stroke-width="0.6" stroke-dasharray="0.7 0.9"/>
<polyline points="69,653.42 96.72,650.99 124.44,640.51 145.23,630.32 172.95,614.61 193.74,628.52 221.46,610" fill="none" stroke="#a8082f" stroke-width="1.6" stroke-linejoin="round"/>
<line x1="124.44" y1="633.06" x2="124.44" y2="647.97" stroke="#a8082f" stroke-width="0.95"/>
<line x1="122.54" y1="633.06" x2="126.34" y2="633.06" stroke="#a8082f" stroke-width="0.95"/>
<line x1="122.54" y1="647.97" x2="126.34" y2="647.97" stroke="#a8082f" stroke-width="0.95"/>
<line x1="145.23" y1="618.87" x2="145.23" y2="641.76" stroke="#a8082f" stroke-width="0.95"/>
<line x1="143.33" y1="618.87" x2="147.13" y2="618.87" stroke="#a8082f" stroke-width="0.95"/>
<line x1="143.33" y1="641.76" x2="147.13" y2="641.76" stroke="#a8082f" stroke-width="0.95"/>
<line x1="172.95" y1="593.8" x2="172.95" y2="635.42" stroke="#a8082f" stroke-width="0.95"/>
<line x1="171.05" y1="593.8" x2="174.85" y2="593.8" stroke="#a8082f" stroke-width="0.95"/>
<line x1="171.05" y1="635.42" x2="174.85" y2="635.42" stroke="#a8082f" stroke-width="0.95"/>
<line x1="193.74" y1="622.97" x2="193.74" y2="634.06" stroke="#a8082f" stroke-width="0.95"/>
<line x1="191.84" y1="622.97" x2="195.64" y2="622.97" stroke="#a8082f" stroke-width="0.95"/>
<line x1="191.84" y1="634.06" x2="195.64" y2="634.06" stroke="#a8082f" stroke-width="0.95"/>
<line x1="221.46" y1="600.63" x2="221.46" y2="619.36" stroke="#a8082f" stroke-width="0.95"/>
<line x1="219.56" y1="600.63" x2="223.36" y2="600.63" stroke="#a8082f" stroke-width="0.95"/>
<line x1="219.56" y1="619.36" x2="223.36" y2="619.36" stroke="#a8082f" stroke-width="0.95"/>
<polyline points="69,652.69 96.72,648.21 124.44,638.4 145.23,627.79 172.95,613.5 193.74,622.31 221.46,593.9" fill="none" stroke="#213f7c" stroke-width="1.6" stroke-linejoin="round"/>
<line x1="96.72" y1="647.52" x2="96.72" y2="648.91" stroke="#213f7c" stroke-width="0.95"/>
<line x1="94.82" y1="647.52" x2="98.62" y2="647.52" stroke="#213f7c" stroke-width="0.95"/>
<line x1="94.82" y1="648.91" x2="98.62" y2="648.91" stroke="#213f7c" stroke-width="0.95"/>
<line x1="124.44" y1="634.93" x2="124.44" y2="641.87" stroke="#213f7c" stroke-width="0.95"/>
<line x1="122.54" y1="634.93" x2="126.34" y2="634.93" stroke="#213f7c" stroke-width="0.95"/>
<line x1="122.54" y1="641.87" x2="126.34" y2="641.87" stroke="#213f7c" stroke-width="0.95"/>
<line x1="145.23" y1="624.49" x2="145.23" y2="631.08" stroke="#213f7c" stroke-width="0.95"/>
<line x1="143.33" y1="624.49" x2="147.13" y2="624.49" stroke="#213f7c" stroke-width="0.95"/>
<line x1="143.33" y1="631.08" x2="147.13" y2="631.08" stroke="#213f7c" stroke-width="0.95"/>
<line x1="172.95" y1="603.62" x2="172.95" y2="623.38" stroke="#213f7c" stroke-width="0.95"/>
<line x1="171.05" y1="603.62" x2="174.85" y2="603.62" stroke="#213f7c" stroke-width="0.95"/>
<line x1="171.05" y1="623.38" x2="174.85" y2="623.38" stroke="#213f7c" stroke-width="0.95"/>
<line x1="193.74" y1="618.15" x2="193.74" y2="626.47" stroke="#213f7c" stroke-width="0.95"/>
<line x1="191.84" y1="618.15" x2="195.64" y2="618.15" stroke="#213f7c" stroke-width="0.95"/>
<line x1="191.84" y1="626.47" x2="195.64" y2="626.47" stroke="#213f7c" stroke-width="0.95"/>
<line x1="221.46" y1="589.57" x2="221.46" y2="598.24" stroke="#213f7c" stroke-width="0.95"/>
<line x1="219.56" y1="589.57" x2="223.36" y2="589.57" stroke="#213f7c" stroke-width="0.95"/>
<line x1="219.56" y1="598.24" x2="223.36" y2="598.24" stroke="#213f7c" stroke-width="0.95"/>
<polyline points="69,652.69 96.72,649.29 124.44,636.11 145.23,621.61 172.95,598.52" fill="none" stroke="#6aa843" stroke-width="1.6" stroke-linejoin="round"/>
<line x1="96.72" y1="648.6" x2="96.72" y2="649.98" stroke="#6aa843" stroke-width="0.95"/>
<line x1="94.82" y1="648.6" x2="98.62" y2="648.6" stroke="#6aa843" stroke-width="0.95"/>
<line x1="94.82" y1="649.98" x2="98.62" y2="649.98" stroke="#6aa843" stroke-width="0.95"/>
<line x1="124.44" y1="633.51" x2="124.44" y2="638.71" stroke="#6aa843" stroke-width="0.95"/>
<line x1="122.54" y1="633.51" x2="126.34" y2="633.51" stroke="#6aa843" stroke-width="0.95"/>
<line x1="122.54" y1="638.71" x2="126.34" y2="638.71" stroke="#6aa843" stroke-width="0.95"/>
<line x1="145.23" y1="618.15" x2="145.23" y2="625.08" stroke="#6aa843" stroke-width="0.95"/>
<line x1="143.33" y1="618.15" x2="147.13" y2="618.15" stroke="#6aa843" stroke-width="0.95"/>
<line x1="143.33" y1="625.08" x2="147.13" y2="625.08" stroke="#6aa843" stroke-width="0.95"/>
<line x1="172.95" y1="594.36" x2="172.95" y2="602.68" stroke="#6aa843" stroke-width="0.95"/>
<line x1="171.05" y1="594.36" x2="174.85" y2="594.36" stroke="#6aa843" stroke-width="0.95"/>
<line x1="171.05" y1="602.68" x2="174.85" y2="602.68" stroke="#6aa843" stroke-width="0.95"/>
<line x1="68.8" y1="568" x2="68.8" y2="657.9" stroke="#141414" stroke-width="1.2"/>
<line x1="68.2" y1="657.3" x2="244.6" y2="657.3" stroke="#141414" stroke-width="1.3"/>
<polygon points="66.9,652.12 71.1,652.12 69,655.12" fill="#a8082f"/>
<polygon points="94.62,649.69 98.82,649.69 96.72,652.69" fill="#a8082f"/>
<polygon points="122.34,639.21 126.54,639.21 124.44,642.21" fill="#a8082f"/>
<polygon points="143.13,629.02 147.33,629.02 145.23,632.02" fill="#a8082f"/>
<polygon points="170.85,613.31 175.05,613.31 172.95,616.31" fill="#a8082f"/>
<polygon points="191.64,627.22 195.84,627.22 193.74,630.22" fill="#a8082f"/>
<polygon points="219.36,608.7 223.56,608.7 221.46,611.7" fill="#a8082f"/>
<rect x="67.3" y="650.99" width="3.4" height="3.4" fill="#213f7c"/>
<rect x="95.02" y="646.51" width="3.4" height="3.4" fill="#213f7c"/>
<rect x="122.74" y="636.7" width="3.4" height="3.4" fill="#213f7c"/>
<rect x="143.53" y="626.09" width="3.4" height="3.4" fill="#213f7c"/>
<rect x="171.25" y="611.8" width="3.4" height="3.4" fill="#213f7c"/>
<rect x="192.04" y="620.61" width="3.4" height="3.4" fill="#213f7c"/>
<rect x="219.76" y="592.2" width="3.4" height="3.4" fill="#213f7c"/>
<circle cx="69" cy="652.69" r="1.9" fill="#6aa843"/>
<circle cx="96.72" cy="649.29" r="1.9" fill="#6aa843"/>
<circle cx="124.44" cy="636.11" r="1.9" fill="#6aa843"/>
<circle cx="145.23" cy="621.61" r="1.9" fill="#6aa843"/>
<circle cx="172.95" cy="598.52" r="1.9" fill="#6aa843"/>
<line x1="65.8" y1="657.3" x2="68.8" y2="657.3" stroke="#141414" stroke-width="1.0"/>
<text x="62.4" y="659.6" font-size="6.6" text-anchor="end" textLength="3.62" lengthAdjust="spacingAndGlyphs">0</text>
<line x1="65.8" y1="639.96" x2="68.8" y2="639.96" stroke="#141414" stroke-width="1.0"/>
<text x="62.4" y="642.26" font-size="6.6" text-anchor="end" textLength="10.86" lengthAdjust="spacingAndGlyphs">500</text>
<line x1="65.8" y1="622.62" x2="68.8" y2="622.62" stroke="#141414" stroke-width="1.0"/>
<text x="62.4" y="624.92" font-size="6.6" text-anchor="end" textLength="14.48" lengthAdjust="spacingAndGlyphs">1000</text>
<line x1="65.8" y1="605.28" x2="68.8" y2="605.28" stroke="#141414" stroke-width="1.0"/>
<text x="62.4" y="607.58" font-size="6.6" text-anchor="end" textLength="14.48" lengthAdjust="spacingAndGlyphs">1500</text>
<line x1="65.8" y1="587.94" x2="68.8" y2="587.94" stroke="#141414" stroke-width="1.0"/>
<text x="62.4" y="590.24" font-size="6.6" text-anchor="end" textLength="14.48" lengthAdjust="spacingAndGlyphs">2000</text>
<line x1="65.8" y1="570.6" x2="68.8" y2="570.6" stroke="#141414" stroke-width="1.0"/>
<text x="62.4" y="572.9" font-size="6.6" text-anchor="end" textLength="14.48" lengthAdjust="spacingAndGlyphs">2500</text>
<line x1="69" y1="657.3" x2="69" y2="659.9" stroke="#141414" stroke-width="1.0"/>
<text x="69" y="669.4" font-size="6.6" text-anchor="middle" textLength="3.6" lengthAdjust="spacingAndGlyphs">0</text>
<line x1="103.65" y1="657.3" x2="103.65" y2="659.9" stroke="#141414" stroke-width="1.0"/>
<text x="103.65" y="669.4" font-size="6.6" text-anchor="middle" textLength="3.6" lengthAdjust="spacingAndGlyphs">5</text>
<line x1="138.3" y1="657.3" x2="138.3" y2="659.9" stroke="#141414" stroke-width="1.0"/>
<text x="138.3" y="669.4" font-size="6.6" text-anchor="middle" textLength="7.2" lengthAdjust="spacingAndGlyphs">10</text>
<line x1="172.95" y1="657.3" x2="172.95" y2="659.9" stroke="#141414" stroke-width="1.0"/>
<text x="172.95" y="669.4" font-size="6.6" text-anchor="middle" textLength="7.2" lengthAdjust="spacingAndGlyphs">15</text>
<line x1="207.6" y1="657.3" x2="207.6" y2="659.9" stroke="#141414" stroke-width="1.0"/>
<text x="207.6" y="669.4" font-size="6.6" text-anchor="middle" textLength="7.2" lengthAdjust="spacingAndGlyphs">20</text>
<line x1="242.25" y1="657.3" x2="242.25" y2="659.9" stroke="#141414" stroke-width="1.0"/>
<text x="242.25" y="669.4" font-size="6.6" text-anchor="middle" textLength="7.2" lengthAdjust="spacingAndGlyphs">25</text>
<text x="157.2" y="681.8" font-size="8.2" text-anchor="middle" textLength="44" lengthAdjust="spacingAndGlyphs">Days on study</text>
<text x="30.8" y="612.9" font-size="8.2" text-anchor="middle" textLength="67.3" lengthAdjust="spacingAndGlyphs" transform="rotate(-90 30.8 612.9)">Tumor volume (mm<tspan dy="-2.7" font-size="5.6">3</tspan><tspan dy="2.7">)</tspan></text>
<text x="42.9" y="612.9" font-size="8.2" text-anchor="middle" textLength="44.2" lengthAdjust="spacingAndGlyphs" transform="rotate(-90 42.9 612.9)">mean +/- SEM</text>
<line x1="77.9" y1="578.3" x2="87.5" y2="578.3" stroke="#6aa843" stroke-width="1.3"/>
<circle cx="82.7" cy="578.3" r="1.9" fill="#6aa843"/>
<text x="90.2" y="580.6" font-size="6.6" textLength="17.5" lengthAdjust="spacingAndGlyphs">Vehicle</text>
<line x1="77.9" y1="587.9" x2="87.5" y2="587.9" stroke="#a8082f" stroke-width="1.3"/>
<polygon points="80.6,586.6 84.8,586.6 82.7,589.6" fill="#a8082f"/>
<text x="90.2" y="590.2" font-size="6.6" textLength="23.5" lengthAdjust="spacingAndGlyphs">AZD4573</text>
<line x1="77.9" y1="597.5" x2="87.5" y2="597.5" stroke="#213f7c" stroke-width="1.3"/>
<rect x="81" y="595.8" width="3.4" height="3.4" fill="#213f7c"/>
<text x="90.2" y="599.8" font-size="6.6" textLength="23.5" lengthAdjust="spacingAndGlyphs">AZD5991</text>
<text x="142.6" y="581.3" font-size="9.4" class="ti" textLength="28.2" lengthAdjust="spacingAndGlyphs">LY3604</text>
<rect x="304.3" y="348.5" width="6.15" height="16.4" fill="#6aa843"/>
<rect x="304.3" y="370.3" width="6.15" height="26.2" fill="#6aa843"/>
<rect x="313.33" y="358.1" width="6.15" height="6.8" fill="#6aa843"/>
<rect x="313.33" y="370.3" width="6.15" height="26.2" fill="#6aa843"/>
<rect x="322.36" y="358.7" width="6.15" height="6.2" fill="#6aa843"/>
<rect x="322.36" y="370.3" width="6.15" height="26.2" fill="#6aa843"/>
<rect x="331.39" y="357.71" width="6.15" height="7.19" fill="#6aa843"/>
<rect x="331.39" y="370.3" width="6.15" height="26.2" fill="#6aa843"/>
<rect x="340.42" y="359.64" width="6.15" height="5.26" fill="#6aa843"/>
<rect x="340.42" y="370.3" width="6.15" height="26.2" fill="#6aa843"/>
<rect x="349.45" y="364.26" width="6.15" height="0.64" fill="#2c4879"/>
<rect x="349.45" y="370.3" width="6.15" height="26.2" fill="#2c4879"/>
<rect x="358.48" y="361.5" width="6.15" height="3.4" fill="#2c4879"/>
<rect x="358.48" y="370.3" width="6.15" height="26.2" fill="#2c4879"/>
<rect x="367.51" y="362.85" width="6.15" height="2.05" fill="#2c4879"/>
<rect x="367.51" y="370.3" width="6.15" height="26.2" fill="#2c4879"/>
<rect x="376.54" y="370.3" width="6.15" height="26.2" fill="#2c4879"/>
<rect x="385.57" y="351.3" width="6.15" height="13.6" fill="#2c4879"/>
<rect x="385.57" y="370.3" width="6.15" height="26.2" fill="#2c4879"/>
<rect x="394.6" y="396.5" width="6.15" height="4.15" fill="#a8082f"/>
<rect x="403.63" y="396.5" width="6.15" height="8.22" fill="#a8082f"/>
<rect x="412.66" y="396.5" width="6.15" height="8.22" fill="#a8082f"/>
<rect x="421.69" y="396.5" width="6.15" height="8.22" fill="#a8082f"/>
<rect x="430.72" y="396.5" width="6.15" height="8.22" fill="#a8082f"/>
<line x1="301" y1="332.7" x2="301" y2="365" stroke="#141414" stroke-width="1.1"/>
<line x1="301" y1="370.2" x2="301" y2="408" stroke="#141414" stroke-width="1.1"/>
<line x1="299.2" y1="365" x2="302.8" y2="365" stroke="#141414" stroke-width="0.9"/>
<line x1="299.2" y1="370.2" x2="302.8" y2="370.2" stroke="#141414" stroke-width="0.9"/>
<line x1="300.5" y1="396.5" x2="439.8" y2="396.5" stroke="#141414" stroke-width="1.4"/>
<line x1="298.4" y1="335" x2="301" y2="335" stroke="#141414" stroke-width="0.9"/>
<text x="294.6" y="337.7" font-size="6.6" text-anchor="end" textLength="13.8" lengthAdjust="spacingAndGlyphs">3000</text>
<line x1="298.4" y1="350.4" x2="301" y2="350.4" stroke="#141414" stroke-width="0.9"/>
<text x="294.6" y="353.1" font-size="6.6" text-anchor="end" textLength="13.8" lengthAdjust="spacingAndGlyphs">1800</text>
<text x="294.6" y="367.3" font-size="6.6" text-anchor="end" textLength="10.35" lengthAdjust="spacingAndGlyphs">600</text>
<text x="294.6" y="373" font-size="6.6" text-anchor="end" textLength="10.35" lengthAdjust="spacingAndGlyphs">300</text>
<line x1="298.4" y1="387.9" x2="301" y2="387.9" stroke="#141414" stroke-width="0.9"/>
<text x="294.6" y="390.6" font-size="6.6" text-anchor="end" textLength="10.35" lengthAdjust="spacingAndGlyphs">100</text>
<line x1="298.4" y1="405.2" x2="301" y2="405.2" stroke="#141414" stroke-width="0.9"/>
<text x="294.6" y="407.9" font-size="6.6" text-anchor="end" textLength="12.65" lengthAdjust="spacingAndGlyphs">-100</text>
<text x="263.2" y="371.5" font-size="8.2" text-anchor="middle" textLength="61.5" lengthAdjust="spacingAndGlyphs" transform="rotate(-90 263.2 371.5)">Tumor volume from</text>
<text x="274" y="371.5" font-size="8.2" text-anchor="middle" textLength="38.4" lengthAdjust="spacingAndGlyphs" transform="rotate(-90 274 371.5)">baseline (%)</text>
<polyline points="326,326.8 326,319.5 417,319.5 417,326.8" fill="none" stroke="#141414" stroke-width="0.9"/>
<text x="372.2" y="317.6" font-size="6.0" text-anchor="middle" textLength="9.2" lengthAdjust="spacingAndGlyphs">****</text>
<polyline points="326,341.2 326,334.2 372.4,334.2 372.4,341.2" fill="none" stroke="#141414" stroke-width="0.9"/>
<text x="349" y="331.4" font-size="6.6" class="it" text-anchor="middle" textLength="5.4" lengthAdjust="spacingAndGlyphs">ns</text>
<text x="324.2" y="414" font-size="7.0" text-anchor="middle" textLength="21.3" lengthAdjust="spacingAndGlyphs">Vehicle</text>
<text x="324.2" y="421.7" font-size="7.0" text-anchor="middle" textLength="15.5" lengthAdjust="spacingAndGlyphs">(D14)</text>
<text x="369.8" y="414" font-size="7.0" text-anchor="middle" textLength="28" lengthAdjust="spacingAndGlyphs">AZD5991</text>
<text x="369.8" y="421.7" font-size="7.0" text-anchor="middle" textLength="15.5" lengthAdjust="spacingAndGlyphs">(D14)</text>
<text x="415.6" y="414" font-size="7.0" text-anchor="middle" textLength="28" lengthAdjust="spacingAndGlyphs">AZD4573</text>
<text x="415.6" y="421.7" font-size="7.0" text-anchor="middle" textLength="15.5" lengthAdjust="spacingAndGlyphs">(D14)</text>
<rect x="449.4" y="358" width="7.5" height="3.8" fill="#6aa843"/>
<text x="460.2" y="362" font-size="5.9" textLength="33.3" lengthAdjust="spacingAndGlyphs">Vehicle (D14)</text>
<rect x="449.4" y="367.2" width="7.5" height="3.8" fill="#2c4879"/>
<text x="460.2" y="371.2" font-size="5.9" textLength="39.2" lengthAdjust="spacingAndGlyphs">AZD5991 (D14)</text>
<rect x="449.4" y="376.3" width="7.5" height="3.8" fill="#a8082f"/>
<text x="460.2" y="380.3" font-size="5.9" textLength="39.2" lengthAdjust="spacingAndGlyphs">AZD4573 (D14)</text>
<rect x="304.3" y="466.2" width="6.15" height="15.4" fill="#6aa843"/>
<rect x="304.3" y="487.1" width="6.15" height="33.4" fill="#6aa843"/>
<rect x="313.33" y="475.6" width="6.15" height="6" fill="#6aa843"/>
<rect x="313.33" y="487.1" width="6.15" height="33.4" fill="#6aa843"/>
<rect x="322.36" y="476.54" width="6.15" height="5.06" fill="#6aa843"/>
<rect x="322.36" y="487.1" width="6.15" height="33.4" fill="#6aa843"/>
<rect x="331.39" y="480.46" width="6.15" height="1.14" fill="#6aa843"/>
<rect x="331.39" y="487.1" width="6.15" height="33.4" fill="#6aa843"/>
<rect x="340.42" y="500.72" width="6.15" height="19.78" fill="#6aa843"/>
<rect x="349.45" y="476.75" width="6.15" height="4.85" fill="#2c4879"/>
<rect x="349.45" y="487.1" width="6.15" height="33.4" fill="#2c4879"/>
<rect x="358.48" y="487.1" width="6.15" height="33.4" fill="#2c4879"/>
<rect x="367.51" y="508.23" width="6.15" height="12.27" fill="#2c4879"/>
<rect x="376.54" y="510.78" width="6.15" height="9.72" fill="#2c4879"/>
<rect x="385.57" y="512.21" width="6.15" height="8.29" fill="#2c4879"/>
<rect x="394.6" y="520.5" width="6.15" height="4.2" fill="#a8082f"/>
<rect x="403.63" y="520.5" width="6.15" height="7.29" fill="#a8082f"/>
<rect x="412.66" y="520.5" width="6.15" height="8.95" fill="#a8082f"/>
<rect x="421.69" y="520.5" width="6.15" height="10.94" fill="#a8082f"/>
<rect x="430.72" y="520.5" width="6.15" height="10.94" fill="#a8082f"/>
<line x1="301" y1="459.8" x2="301" y2="481.7" stroke="#141414" stroke-width="1.1"/>
<line x1="301" y1="487" x2="301" y2="534.8" stroke="#141414" stroke-width="1.1"/>
<line x1="299.2" y1="481.7" x2="302.8" y2="481.7" stroke="#141414" stroke-width="0.9"/>
<line x1="299.2" y1="487" x2="302.8" y2="487" stroke="#141414" stroke-width="0.9"/>
<line x1="300.5" y1="520.5" x2="441.3" y2="520.5" stroke="#141414" stroke-width="1.4"/>
<line x1="298.4" y1="461.7" x2="301" y2="461.7" stroke="#141414" stroke-width="0.9"/>
<text x="294.6" y="464.4" font-size="6.6" text-anchor="end" textLength="13.8" lengthAdjust="spacingAndGlyphs">1500</text>
<line x1="298.4" y1="471.7" x2="301" y2="471.7" stroke="#141414" stroke-width="0.9"/>
<text x="294.6" y="474.4" font-size="6.6" text-anchor="end" textLength="13.8" lengthAdjust="spacingAndGlyphs">1000</text>
<text x="294.6" y="483.7" font-size="6.6" text-anchor="end" textLength="10.35" lengthAdjust="spacingAndGlyphs">500</text>
<text x="294.6" y="489.8" font-size="6.6" text-anchor="end" textLength="10.35" lengthAdjust="spacingAndGlyphs">300</text>
<line x1="298.4" y1="509.2" x2="301" y2="509.2" stroke="#141414" stroke-width="0.9"/>
<text x="294.6" y="511.9" font-size="6.6" text-anchor="end" textLength="10.35" lengthAdjust="spacingAndGlyphs">100</text>
<line x1="298.4" y1="531.6" x2="301" y2="531.6" stroke="#141414" stroke-width="0.9"/>
<text x="294.6" y="534.3" font-size="6.6" text-anchor="end" textLength="12.65" lengthAdjust="spacingAndGlyphs">-100</text>
<text x="263.2" y="498.3" font-size="8.2" text-anchor="middle" textLength="61.5" lengthAdjust="spacingAndGlyphs" transform="rotate(-90 263.2 498.3)">Tumor volume from</text>
<text x="274" y="498.3" font-size="8.2" text-anchor="middle" textLength="38.6" lengthAdjust="spacingAndGlyphs" transform="rotate(-90 274 498.3)">baseline (%)</text>
<polyline points="325.6,453.7 325.6,446.4 417.5,446.4 417.5,453.7" fill="none" stroke="#141414" stroke-width="0.9"/>
<text x="371.8" y="444.5" font-size="6.0" text-anchor="middle" textLength="4.6" lengthAdjust="spacingAndGlyphs">**</text>
<polyline points="325.6,468.6 325.6,460.6 372.5,460.6 372.5,468.6" fill="none" stroke="#141414" stroke-width="0.9"/>
<text x="349.2" y="458" font-size="6.6" class="it" text-anchor="middle" textLength="5.4" lengthAdjust="spacingAndGlyphs">ns</text>
<text x="324.2" y="541.2" font-size="7.0" text-anchor="middle" textLength="21.3" lengthAdjust="spacingAndGlyphs">Vehicle</text>
<text x="324.2" y="548.9" font-size="7.0" text-anchor="middle" textLength="15.5" lengthAdjust="spacingAndGlyphs">(D21)</text>
<text x="369.8" y="541.2" font-size="7.0" text-anchor="middle" textLength="28" lengthAdjust="spacingAndGlyphs">AZD5991</text>
<text x="369.8" y="548.9" font-size="7.0" text-anchor="middle" textLength="15.5" lengthAdjust="spacingAndGlyphs">(D21)</text>
<text x="415.6" y="541.2" font-size="7.0" text-anchor="middle" textLength="28" lengthAdjust="spacingAndGlyphs">AZD4573</text>
<text x="415.6" y="548.9" font-size="7.0" text-anchor="middle" textLength="15.5" lengthAdjust="spacingAndGlyphs">(D21)</text>
<rect x="449.4" y="484.3" width="7.5" height="3.8" fill="#6aa843"/>
<text x="460.2" y="488.3" font-size="5.9" textLength="33.3" lengthAdjust="spacingAndGlyphs">Vehicle (D21)</text>
<rect x="449.4" y="493.6" width="7.5" height="3.8" fill="#2c4879"/>
<text x="460.2" y="497.6" font-size="5.9" textLength="39.2" lengthAdjust="spacingAndGlyphs">AZD5991 (D21)</text>
<rect x="449.4" y="503.1" width="7.5" height="3.8" fill="#a8082f"/>
<text x="460.2" y="507.1" font-size="5.9" textLength="39.2" lengthAdjust="spacingAndGlyphs">AZD4573 (D21)</text>
<rect x="304.3" y="607" width="6.15" height="9.6" fill="#6aa843"/>
<rect x="304.3" y="622" width="6.15" height="38.6" fill="#6aa843"/>
<rect x="313.33" y="613.3" width="6.15" height="3.3" fill="#6aa843"/>
<rect x="313.33" y="622" width="6.15" height="38.6" fill="#6aa843"/>
<rect x="322.36" y="613.81" width="6.15" height="2.79" fill="#6aa843"/>
<rect x="322.36" y="622" width="6.15" height="38.6" fill="#6aa843"/>
<rect x="331.39" y="613.81" width="6.15" height="2.79" fill="#6aa843"/>
<rect x="331.39" y="622" width="6.15" height="38.6" fill="#6aa843"/>
<rect x="340.42" y="615.2" width="6.15" height="1.4" fill="#6aa843"/>
<rect x="340.42" y="622" width="6.15" height="38.6" fill="#6aa843"/>
<rect x="349.45" y="613.4" width="6.15" height="3.2" fill="#2c4879"/>
<rect x="349.45" y="622" width="6.15" height="38.6" fill="#2c4879"/>
<rect x="358.48" y="623.66" width="6.15" height="36.94" fill="#2c4879"/>
<rect x="367.51" y="607.28" width="6.15" height="9.32" fill="#2c4879"/>
<rect x="367.51" y="622" width="6.15" height="38.6" fill="#2c4879"/>
<rect x="376.54" y="626.13" width="6.15" height="34.47" fill="#2c4879"/>
<rect x="385.57" y="622" width="6.15" height="38.6" fill="#2c4879"/>
<rect x="394.6" y="628.65" width="6.15" height="31.95" fill="#a8082f"/>
<rect x="403.63" y="601.25" width="6.15" height="15.35" fill="#a8082f"/>
<rect x="403.63" y="622" width="6.15" height="38.6" fill="#a8082f"/>
<rect x="412.66" y="624.18" width="6.15" height="36.42" fill="#a8082f"/>
<rect x="421.69" y="645.37" width="6.15" height="15.23" fill="#a8082f"/>
<rect x="430.72" y="636.62" width="6.15" height="23.98" fill="#a8082f"/>
<line x1="301" y1="597.5" x2="301" y2="616.7" stroke="#141414" stroke-width="1.1"/>
<line x1="301" y1="621.9" x2="301" y2="669.6" stroke="#141414" stroke-width="1.1"/>
<line x1="299.2" y1="616.7" x2="302.8" y2="616.7" stroke="#141414" stroke-width="0.9"/>
<line x1="299.2" y1="621.9" x2="302.8" y2="621.9" stroke="#141414" stroke-width="0.9"/>
<line x1="300.5" y1="660.6" x2="441.3" y2="660.6" stroke="#141414" stroke-width="1.4"/>
<line x1="298.4" y1="600.8" x2="301" y2="600.8" stroke="#141414" stroke-width="0.9"/>
<text x="294.6" y="603.5" font-size="6.6" text-anchor="end" textLength="13.8" lengthAdjust="spacingAndGlyphs">2600</text>
<line x1="298.4" y1="607.7" x2="301" y2="607.7" stroke="#141414" stroke-width="0.9"/>
<text x="294.6" y="610.4" font-size="6.6" text-anchor="end" textLength="13.8" lengthAdjust="spacingAndGlyphs">1800</text>
<text x="294.6" y="617.9" font-size="6.6" text-anchor="end" textLength="13.8" lengthAdjust="spacingAndGlyphs">1000</text>
<line x1="298.4" y1="628.3" x2="301" y2="628.3" stroke="#141414" stroke-width="0.9"/>
<text x="294.6" y="631" font-size="6.6" text-anchor="end" textLength="10.35" lengthAdjust="spacingAndGlyphs">500</text>
<line x1="298.4" y1="641.2" x2="301" y2="641.2" stroke="#141414" stroke-width="0.9"/>
<text x="294.6" y="643.9" font-size="6.6" text-anchor="end" textLength="10.35" lengthAdjust="spacingAndGlyphs">300</text>
<line x1="298.4" y1="654.2" x2="301" y2="654.2" stroke="#141414" stroke-width="0.9"/>
<text x="294.6" y="656.9" font-size="6.6" text-anchor="end" textLength="10.35" lengthAdjust="spacingAndGlyphs">100</text>
<line x1="298.4" y1="667.2" x2="301" y2="667.2" stroke="#141414" stroke-width="0.9"/>
<text x="294.6" y="669.9" font-size="6.6" text-anchor="end" textLength="12.65" lengthAdjust="spacingAndGlyphs">-100</text>
<text x="263.2" y="634.4" font-size="8.2" text-anchor="middle" textLength="62" lengthAdjust="spacingAndGlyphs" transform="rotate(-90 263.2 634.4)">Tumor volume from</text>
<text x="274" y="634.4" font-size="8.2" text-anchor="middle" textLength="39.5" lengthAdjust="spacingAndGlyphs" transform="rotate(-90 274 634.4)">baseline (%)</text>
<polyline points="325.6,581.3 325.6,574.5 415,574.5 415,581.3" fill="none" stroke="#141414" stroke-width="0.9"/>
<text x="370" y="572.9" font-size="6.6" class="it" text-anchor="middle" textLength="5.4" lengthAdjust="spacingAndGlyphs">ns</text>
<polyline points="325.6,596.3 325.6,589.3 372.5,589.3 372.5,596.3" fill="none" stroke="#141414" stroke-width="0.9"/>
<text x="349.2" y="586.9" font-size="6.6" class="it" text-anchor="middle" textLength="5.4" lengthAdjust="spacingAndGlyphs">ns</text>
<text x="324.2" y="676.3" font-size="7.0" text-anchor="middle" textLength="21.3" lengthAdjust="spacingAndGlyphs">Vehicle</text>
<text x="324.2" y="684" font-size="7.0" text-anchor="middle" textLength="15.5" lengthAdjust="spacingAndGlyphs">(D15)</text>
<text x="369.8" y="676.3" font-size="7.0" text-anchor="middle" textLength="28" lengthAdjust="spacingAndGlyphs">AZD5991</text>
<text x="369.8" y="684" font-size="7.0" text-anchor="middle" textLength="15.5" lengthAdjust="spacingAndGlyphs">(D15)</text>
<text x="415.6" y="676.3" font-size="7.0" text-anchor="middle" textLength="28" lengthAdjust="spacingAndGlyphs">AZD4573</text>
<text x="415.6" y="684" font-size="7.0" text-anchor="middle" textLength="15.5" lengthAdjust="spacingAndGlyphs">(D15)</text>
<rect x="449.4" y="619.8" width="7.5" height="3.8" fill="#6aa843"/>
<text x="460.2" y="623.8" font-size="5.9" textLength="33.3" lengthAdjust="spacingAndGlyphs">Vehicle (D15)</text>
<rect x="449.4" y="629" width="7.5" height="3.8" fill="#2c4879"/>
<text x="460.2" y="633" font-size="5.9" textLength="39.2" lengthAdjust="spacingAndGlyphs">AZD5991 (D15)</text>
<rect x="449.4" y="638.3" width="7.5" height="3.8" fill="#a8082f"/>
<text x="460.2" y="642.3" font-size="5.9" textLength="39.2" lengthAdjust="spacingAndGlyphs">AZD4573 (D15)</text>
<rect x="87.4" y="158" width="68" height="14.1" rx="1.1" fill="#fbfbfb" stroke="#050505" stroke-width="1.3"/>
<rect x="88.9" y="159.5" width="65" height="11.1" fill="#f2f2f2"/>
<rect x="87.4" y="175.3" width="68" height="14.2" rx="1.1" fill="#fbfbfb" stroke="#050505" stroke-width="1.3"/>
<rect x="88.9" y="176.8" width="65" height="11.2" fill="#f2f2f2"/>
<rect x="87.4" y="192.6" width="68" height="14.2" rx="1.1" fill="#fbfbfb" stroke="#050505" stroke-width="1.3"/>
<rect x="88.9" y="194.1" width="65" height="11.2" fill="#f2f2f2"/>
<rect x="87.4" y="209.9" width="68" height="14.3" rx="1.1" fill="#fbfbfb" stroke="#050505" stroke-width="1.3"/>
<rect x="88.9" y="211.4" width="65" height="11.3" fill="#f2f2f2"/>
<rect x="87.4" y="227.9" width="68" height="14" rx="1.1" fill="#fbfbfb" stroke="#050505" stroke-width="1.3"/>
<rect x="88.9" y="229.4" width="65" height="11" fill="#f2f2f2"/>
<rect x="87.4" y="245" width="68" height="14.2" rx="1.1" fill="#fbfbfb" stroke="#050505" stroke-width="1.3"/>
<rect x="88.9" y="246.5" width="65" height="11.2" fill="#f2f2f2"/>
<rect x="87.4" y="261.9" width="68" height="23.1" rx="1.1" fill="#fbfbfb" stroke="#050505" stroke-width="1.3"/>
<rect x="88.9" y="263.4" width="65" height="20.1" fill="#f2f2f2"/>
<rect x="87.4" y="287.6" width="68" height="14.1" rx="1.1" fill="#fbfbfb" stroke="#050505" stroke-width="1.3"/>
<rect x="88.9" y="289.1" width="65" height="11.1" fill="#f2f2f2"/>
<g clip-path="url(#clipC)">
<rect x="88.75" y="160.95" width="8.9" height="2.9" rx="1.45" fill="#0d0d0d" fill-opacity="1.00" filter="url(#b06)"/>
<rect x="88.5" y="163.8" width="9.4" height="5.4" rx="2.5" fill="#0d0d0d" fill-opacity="0.10" filter="url(#b1)"/>
<rect x="100.25" y="161.45" width="8.9" height="2.9" rx="1.45" fill="#0d0d0d" fill-opacity="0.97" filter="url(#b06)"/>
<rect x="100" y="163.8" width="9.4" height="5.4" rx="2.5" fill="#0d0d0d" fill-opacity="0.10" filter="url(#b1)"/>
<rect x="111.05" y="161.55" width="8.9" height="2.9" rx="1.45" fill="#0d0d0d" fill-opacity="0.97" filter="url(#b06)"/>
<rect x="110.8" y="163.8" width="9.4" height="5.4" rx="2.5" fill="#0d0d0d" fill-opacity="0.10" filter="url(#b1)"/>
<rect x="122.25" y="161.85" width="8.9" height="2.9" rx="1.45" fill="#0d0d0d" fill-opacity="0.07" filter="url(#b06)"/>
<rect x="122" y="163.8" width="9.4" height="5.4" rx="2.5" fill="#0d0d0d" fill-opacity="0.01" filter="url(#b1)"/>
<rect x="133.35" y="162.05" width="8.9" height="2.9" rx="1.45" fill="#0d0d0d" fill-opacity="0.06" filter="url(#b06)"/>
<rect x="133.1" y="163.8" width="9.4" height="5.4" rx="2.5" fill="#0d0d0d" fill-opacity="0.01" filter="url(#b1)"/>
<rect x="144.45" y="162.45" width="8.9" height="2.9" rx="1.45" fill="#0d0d0d" fill-opacity="0.35" filter="url(#b06)"/>
<rect x="144.2" y="163.8" width="9.4" height="5.4" rx="2.5" fill="#0d0d0d" fill-opacity="0.03" filter="url(#b1)"/>
<rect x="89.55" y="180.6" width="8.9" height="3.2" rx="1.6" fill="#0d0d0d" fill-opacity="1.00" filter="url(#b06)"/>
<rect x="89.3" y="183.55" width="9.4" height="4.9" rx="2.45" fill="#0d0d0d" fill-opacity="0.10" filter="url(#b1)"/>
<rect x="100.55" y="180.6" width="8.9" height="3.2" rx="1.6" fill="#0d0d0d" fill-opacity="1.00" filter="url(#b06)"/>
<rect x="100.3" y="183.55" width="9.4" height="4.9" rx="2.45" fill="#0d0d0d" fill-opacity="0.10" filter="url(#b1)"/>
<rect x="111.55" y="181" width="8.9" height="3.2" rx="1.6" fill="#0d0d0d" fill-opacity="1.00" filter="url(#b06)"/>
<rect x="111.3" y="183.55" width="9.4" height="4.9" rx="2.45" fill="#0d0d0d" fill-opacity="0.10" filter="url(#b1)"/>
<rect x="122.45" y="181.2" width="8.9" height="3.2" rx="1.6" fill="#0d0d0d" fill-opacity="1.00" filter="url(#b06)"/>
<rect x="122.2" y="183.55" width="9.4" height="4.9" rx="2.45" fill="#0d0d0d" fill-opacity="0.10" filter="url(#b1)"/>
<rect x="133.75" y="180" width="8.9" height="3.2" rx="1.6" fill="#0d0d0d" fill-opacity="1.00" filter="url(#b06)"/>
<rect x="133.5" y="183.55" width="9.4" height="4.9" rx="2.45" fill="#0d0d0d" fill-opacity="0.10" filter="url(#b1)"/>
<rect x="144.55" y="179.7" width="8.9" height="3.2" rx="1.6" fill="#0d0d0d" fill-opacity="1.00" filter="url(#b06)"/>
<rect x="144.3" y="183.55" width="9.4" height="4.9" rx="2.45" fill="#0d0d0d" fill-opacity="0.10" filter="url(#b1)"/>
<rect x="89.35" y="195.95" width="11.3" height="5.9" rx="2.5" fill="#0d0d0d" fill-opacity="1.00" filter="url(#b06)"/>
<rect x="102.25" y="196.25" width="10.1" height="5.5" rx="2.5" fill="#0d0d0d" fill-opacity="1.00" filter="url(#b06)"/>
<rect x="114.25" y="196.35" width="9.5" height="5.7" rx="2.5" fill="#0d0d0d" fill-opacity="1.00" filter="url(#b06)"/>
<rect x="124.55" y="198.05" width="9.3" height="4.5" rx="2.25" fill="#0d0d0d" fill-opacity="0.75" filter="url(#b08)"/>
<rect x="135.15" y="198.35" width="9.3" height="4.3" rx="2.15" fill="#0d0d0d" fill-opacity="0.52" filter="url(#b08)"/>
<rect x="144.95" y="197.75" width="8.9" height="4.1" rx="2.05" fill="#0d0d0d" fill-opacity="0.45" filter="url(#b08)"/>
<rect x="88.25" y="214.75" width="10.1" height="5.1" rx="2.5" fill="#0d0d0d" fill-opacity="1.00" filter="url(#b06)"/>
<rect x="99.85" y="214.65" width="10.3" height="5.3" rx="2.5" fill="#0d0d0d" fill-opacity="1.00" filter="url(#b06)"/>
<rect x="111.45" y="214.55" width="10.3" height="5.5" rx="2.5" fill="#0d0d0d" fill-opacity="1.00" filter="url(#b06)"/>
<rect x="123.35" y="215.85" width="9.3" height="4.3" rx="2.15" fill="#0d0d0d" fill-opacity="0.75" filter="url(#b08)"/>
<rect x="134.65" y="216.35" width="9.3" height="3.9" rx="1.95" fill="#0d0d0d" fill-opacity="0.52" filter="url(#b08)"/>
<rect x="144.75" y="216.35" width="9.3" height="3.9" rx="1.95" fill="#0d0d0d" fill-opacity="0.50" filter="url(#b08)"/>
<rect x="89.35" y="232.45" width="10.7" height="5.1" rx="2.5" fill="#0d0d0d" fill-opacity="1.00" filter="url(#b06)"/>
<rect x="89.55" y="230.45" width="10.3" height="3.7" rx="1.85" fill="#0d0d0d" fill-opacity="0.75" filter="url(#b08)"/>
<rect x="101.15" y="232.45" width="10.7" height="5.1" rx="2.5" fill="#0d0d0d" fill-opacity="1.00" filter="url(#b06)"/>
<rect x="101.35" y="230.45" width="10.3" height="3.7" rx="1.85" fill="#0d0d0d" fill-opacity="0.75" filter="url(#b08)"/>
<rect x="112.25" y="232.45" width="10.7" height="5.1" rx="2.5" fill="#0d0d0d" fill-opacity="0.90" filter="url(#b06)"/>
<rect x="112.45" y="230.45" width="10.3" height="3.7" rx="1.85" fill="#0d0d0d" fill-opacity="0.68" filter="url(#b08)"/>
<rect x="123.15" y="232.45" width="10.7" height="5.1" rx="2.5" fill="#0d0d0d" fill-opacity="0.90" filter="url(#b06)"/>
<rect x="123.35" y="230.45" width="10.3" height="3.7" rx="1.85" fill="#0d0d0d" fill-opacity="0.68" filter="url(#b08)"/>
<rect x="133.85" y="232.45" width="10.7" height="5.1" rx="2.5" fill="#0d0d0d" fill-opacity="0.88" filter="url(#b06)"/>
<rect x="134.05" y="230.45" width="10.3" height="3.7" rx="1.85" fill="#0d0d0d" fill-opacity="0.66" filter="url(#b08)"/>
<rect x="144.25" y="232.45" width="10.7" height="5.1" rx="2.5" fill="#0d0d0d" fill-opacity="0.92" filter="url(#b06)"/>
<rect x="144.45" y="230.45" width="10.3" height="3.7" rx="1.85" fill="#0d0d0d" fill-opacity="0.69" filter="url(#b08)"/>
<rect x="89.65" y="248.95" width="10.1" height="4.7" rx="2.35" fill="#0d0d0d" fill-opacity="0.97" filter="url(#b06)"/>
<rect x="101.15" y="249.25" width="10.1" height="4.1" rx="2.05" fill="#0d0d0d" fill-opacity="0.85" filter="url(#b08)"/>
<rect x="112.55" y="248.55" width="10.1" height="5.5" rx="2.5" fill="#0d0d0d" fill-opacity="1.00" filter="url(#b06)"/>
<rect x="123.65" y="248.75" width="10.1" height="5.1" rx="2.5" fill="#0d0d0d" fill-opacity="1.00" filter="url(#b06)"/>
<rect x="133.55" y="249.3" width="10.1" height="4" rx="2" fill="#0d0d0d" fill-opacity="0.78" filter="url(#b08)"/>
<rect x="144.15" y="248.95" width="10.1" height="4.7" rx="2.35" fill="#0d0d0d" fill-opacity="0.92" filter="url(#b06)"/>
<rect x="111.85" y="268.15" width="8.3" height="4.3" rx="2.15" fill="#0d0d0d" fill-opacity="0.05" filter="url(#b1)"/>
<rect x="122.75" y="268.05" width="9.3" height="4.9" rx="2.45" fill="#0d0d0d" fill-opacity="0.75" filter="url(#b08)"/>
<rect x="122.75" y="263.85" width="9.3" height="4.3" rx="2.15" fill="#0d0d0d" fill-opacity="0.12" filter="url(#b1)"/>
<rect x="122.75" y="276.25" width="9.3" height="3.9" rx="1.95" fill="#0d0d0d" fill-opacity="0.30" filter="url(#b08)"/>
<rect x="133.55" y="266.95" width="10.3" height="6.7" rx="2.5" fill="#0d0d0d" fill-opacity="1.00" filter="url(#b08)"/>
<rect x="134.25" y="267.95" width="8.9" height="4.9" rx="2.45" fill="#0d0d0d" fill-opacity="1.00" filter="url(#b06)"/>
<rect x="133.75" y="263.6" width="9.9" height="4.8" rx="2.4" fill="#0d0d0d" fill-opacity="0.35" filter="url(#b1)"/>
<rect x="133.85" y="275.75" width="9.7" height="4.3" rx="2.15" fill="#0d0d0d" fill-opacity="0.65" filter="url(#b08)"/>
<rect x="143.95" y="267.45" width="9.9" height="5.9" rx="2.5" fill="#0d0d0d" fill-opacity="0.97" filter="url(#b08)"/>
<rect x="144.75" y="268.45" width="8.3" height="4.1" rx="2.05" fill="#0d0d0d" fill-opacity="0.90" filter="url(#b06)"/>
<rect x="144.05" y="263.6" width="9.7" height="4.8" rx="2.4" fill="#0d0d0d" fill-opacity="0.38" filter="url(#b1)"/>
<rect x="144.25" y="276.15" width="9.3" height="4.1" rx="2.05" fill="#0d0d0d" fill-opacity="0.35" filter="url(#b08)"/>
<rect x="88.25" y="293.05" width="10.9" height="4.5" rx="2.25" fill="#0d0d0d" fill-opacity="0.66" filter="url(#b08)"/>
<rect x="99.75" y="293.05" width="10.9" height="4.5" rx="2.25" fill="#0d0d0d" fill-opacity="0.66" filter="url(#b08)"/>
<rect x="110.35" y="293.05" width="10.9" height="4.5" rx="2.25" fill="#0d0d0d" fill-opacity="0.66" filter="url(#b08)"/>
<rect x="121.75" y="293.05" width="10.9" height="4.5" rx="2.25" fill="#0d0d0d" fill-opacity="0.66" filter="url(#b08)"/>
<rect x="132.35" y="293.05" width="10.9" height="4.5" rx="2.25" fill="#0d0d0d" fill-opacity="0.66" filter="url(#b08)"/>
<rect x="143.55" y="293.05" width="10.9" height="4.5" rx="2.25" fill="#0d0d0d" fill-opacity="0.66" filter="url(#b08)"/>
</g>
<text x="69.8" y="162.4" font-size="7.9" class="bl" text-anchor="middle" textLength="20.7" lengthAdjust="spacingAndGlyphs">pSer2-</text>
<text x="69.8" y="170.2" font-size="7.9" class="bl" text-anchor="middle" textLength="22.2" lengthAdjust="spacingAndGlyphs">RNAP2</text>
<text x="69.8" y="184.5" font-size="7.9" class="bl" text-anchor="middle" textLength="15" lengthAdjust="spacingAndGlyphs">RPB1</text>
<text x="69.8" y="202.2" font-size="7.9" class="bl" text-anchor="middle" textLength="13.5" lengthAdjust="spacingAndGlyphs">Bfl-1</text>
<text x="69.8" y="218.8" font-size="7.9" class="bl" text-anchor="middle" textLength="16.5" lengthAdjust="spacingAndGlyphs">Mcl-1</text>
<text x="69.8" y="237.8" font-size="7.9" class="bl" text-anchor="middle" textLength="14.7" lengthAdjust="spacingAndGlyphs">Bcl-2</text>
<text x="69.8" y="254.7" font-size="7.9" class="bl" text-anchor="middle" textLength="18.1" lengthAdjust="spacingAndGlyphs">Bcl-xL</text>
<text x="69.8" y="272.1" font-size="7.9" class="bl" text-anchor="middle" textLength="24.5" lengthAdjust="spacingAndGlyphs">Cleaved</text>
<text x="69.8" y="280.1" font-size="7.9" class="bl" text-anchor="middle" textLength="31.8" lengthAdjust="spacingAndGlyphs">Caspase-3</text>
<text x="69.8" y="298" font-size="7.9" class="bl" text-anchor="middle" textLength="24.1" lengthAdjust="spacingAndGlyphs">GAPDH</text>
<text x="104.7" y="147.8" font-size="7.9" class="bl" text-anchor="middle" textLength="21" lengthAdjust="spacingAndGlyphs">Vehicle</text>
<text x="140.5" y="147.8" font-size="7.9" class="bl" text-anchor="middle" textLength="29.3" lengthAdjust="spacingAndGlyphs">AZD4573</text>
<line x1="89.9" y1="152.1" x2="119.8" y2="152.1" stroke="#000" stroke-width="1.3"/>
<line x1="125.3" y1="152.1" x2="155.6" y2="152.1" stroke="#000" stroke-width="1.3"/>
<text x="167.3" y="152.7" font-size="7.8" class="bl" textLength="26.8" lengthAdjust="spacingAndGlyphs">MW (kD)</text>
<line x1="160.5" y1="162.8" x2="162.6" y2="162.8" stroke="#141414" stroke-width="0.9"/>
<text x="167" y="165.2" font-size="7.6" class="bl" textLength="11" lengthAdjust="spacingAndGlyphs">220</text>
<line x1="160.5" y1="182.2" x2="162.6" y2="182.2" stroke="#141414" stroke-width="0.9"/>
<text x="167" y="184.6" font-size="7.6" class="bl" textLength="11" lengthAdjust="spacingAndGlyphs">220</text>
<line x1="160.5" y1="200.8" x2="162.6" y2="200.8" stroke="#141414" stroke-width="0.9"/>
<text x="169" y="203.2" font-size="7.6" class="bl" textLength="7.3" lengthAdjust="spacingAndGlyphs">18</text>
<line x1="160.5" y1="218.5" x2="162.6" y2="218.5" stroke="#141414" stroke-width="0.9"/>
<text x="169" y="220.9" font-size="7.6" class="bl" textLength="7.3" lengthAdjust="spacingAndGlyphs">40</text>
<line x1="160.5" y1="236.1" x2="162.6" y2="236.1" stroke="#141414" stroke-width="0.9"/>
<text x="169" y="238.5" font-size="7.6" class="bl" textLength="7.3" lengthAdjust="spacingAndGlyphs">28</text>
<line x1="160.5" y1="252.3" x2="162.6" y2="252.3" stroke="#141414" stroke-width="0.9"/>
<text x="169" y="254.7" font-size="7.6" class="bl" textLength="7.3" lengthAdjust="spacingAndGlyphs">30</text>
<line x1="160.5" y1="268" x2="162.6" y2="268" stroke="#141414" stroke-width="0.9"/>
<text x="169" y="270.4" font-size="7.6" class="bl" textLength="7.3" lengthAdjust="spacingAndGlyphs">19</text>
<line x1="160.5" y1="277.9" x2="162.6" y2="277.9" stroke="#141414" stroke-width="0.9"/>
<text x="169" y="280.3" font-size="7.6" class="bl" textLength="7.3" lengthAdjust="spacingAndGlyphs">17</text>
<line x1="160.5" y1="294.2" x2="162.6" y2="294.2" stroke="#141414" stroke-width="0.9"/>
<text x="169" y="296.6" font-size="7.6" class="bl" textLength="7.3" lengthAdjust="spacingAndGlyphs">38</text>
<rect x="332.6" y="180.5" width="138.4" height="15.3" rx="1.1" fill="#fbfbfb" stroke="#050505" stroke-width="1.3"/>
<rect x="334.1" y="182" width="135.4" height="12.3" fill="#f2f2f2"/>
<rect x="332.6" y="199" width="138.4" height="15.3" rx="1.1" fill="#fbfbfb" stroke="#050505" stroke-width="1.3"/>
<rect x="334.1" y="200.5" width="135.4" height="12.3" fill="#f2f2f2"/>
<rect x="332.6" y="217.7" width="138.4" height="15.3" rx="1.1" fill="#fbfbfb" stroke="#050505" stroke-width="1.3"/>
<rect x="334.1" y="219.2" width="135.4" height="12.3" fill="#f2f2f2"/>
<rect x="332.6" y="236.2" width="138.4" height="15.5" rx="1.1" fill="#fbfbfb" stroke="#050505" stroke-width="1.3"/>
<rect x="334.1" y="237.7" width="135.4" height="12.5" fill="#f2f2f2"/>
<rect x="332.6" y="254.5" width="138.4" height="15.5" rx="1.1" fill="#fbfbfb" stroke="#050505" stroke-width="1.3"/>
<rect x="334.1" y="256" width="135.4" height="12.5" fill="#f2f2f2"/>
<rect x="332.6" y="273.2" width="138.4" height="15.7" rx="1.1" fill="#fbfbfb" stroke="#050505" stroke-width="1.3"/>
<rect x="334.1" y="274.7" width="135.4" height="12.7" fill="#f2f2f2"/>
<g clip-path="url(#clipD)">
<rect x="334" y="184.85" width="14.4" height="8.3" rx="4.15" fill="#0d0d0d" fill-opacity="1.00" filter="url(#bD)"/>
<rect x="347.98" y="186.15" width="13.6" height="6.5" rx="3.25" fill="#0d0d0d" fill-opacity="1.00" filter="url(#bD)"/>
<rect x="362.56" y="187.9" width="11.6" height="3.2" rx="1.6" fill="#0d0d0d" fill-opacity="0.12" filter="url(#bD)"/>
<rect x="376.14" y="187" width="11.6" height="3.2" rx="1.6" fill="#0d0d0d" fill-opacity="0.14" filter="url(#bD)"/>
<rect x="388.72" y="185.05" width="13.6" height="7.5" rx="3.75" fill="#0d0d0d" fill-opacity="1.00" filter="url(#bD)"/>
<rect x="430.46" y="186.75" width="11.6" height="3.7" rx="1.85" fill="#0d0d0d" fill-opacity="0.14" filter="url(#bD)"/>
<rect x="457.12" y="187.65" width="12.6" height="5.1" rx="2.55" fill="#0d0d0d" fill-opacity="0.88" filter="url(#bD)"/>
<rect x="333.8" y="203.25" width="14.8" height="7.7" rx="2.5" fill="#0d0d0d" fill-opacity="1.00" filter="url(#bD)"/>
<rect x="347.38" y="203.35" width="14.8" height="7.5" rx="2.5" fill="#0d0d0d" fill-opacity="1.00" filter="url(#bD)"/>
<rect x="361.36" y="203.75" width="14" height="6.5" rx="2.5" fill="#0d0d0d" fill-opacity="1.00" filter="url(#bD)"/>
<rect x="374.74" y="203.55" width="14.4" height="7.1" rx="2.5" fill="#0d0d0d" fill-opacity="1.00" filter="url(#bD)"/>
<rect x="388.32" y="203.35" width="14.4" height="7.1" rx="2.5" fill="#0d0d0d" fill-opacity="1.00" filter="url(#bD)"/>
<rect x="402.8" y="204.55" width="12.6" height="3.5" rx="1.75" fill="#0d0d0d" fill-opacity="0.38" filter="url(#bD)"/>
<rect x="416.38" y="204.95" width="12.6" height="3.3" rx="1.65" fill="#0d0d0d" fill-opacity="0.32" filter="url(#bD)"/>
<rect x="429.46" y="204.55" width="13.6" height="5.7" rx="2.5" fill="#0d0d0d" fill-opacity="0.88" filter="url(#bD)"/>
<rect x="442.74" y="204.35" width="14.2" height="6.5" rx="2.5" fill="#0d0d0d" fill-opacity="0.97" filter="url(#bD)"/>
<rect x="456.62" y="204.75" width="13.6" height="5.7" rx="2.5" fill="#0d0d0d" fill-opacity="0.92" filter="url(#bD)"/>
<rect x="334.4" y="223.25" width="13.6" height="4.5" rx="2.25" fill="#0d0d0d" fill-opacity="0.95" filter="url(#bD)"/>
<rect x="348.23" y="223.65" width="13.1" height="3.9" rx="1.95" fill="#0d0d0d" fill-opacity="0.88" filter="url(#bD)"/>
<rect x="361.26" y="222.45" width="14.2" height="5.9" rx="2.5" fill="#0d0d0d" fill-opacity="1.00" filter="url(#bD)"/>
<rect x="374.84" y="222.35" width="14.2" height="5.9" rx="2.5" fill="#0d0d0d" fill-opacity="1.00" filter="url(#bD)"/>
<rect x="388.72" y="222.75" width="13.6" height="5.1" rx="2.5" fill="#0d0d0d" fill-opacity="0.92" filter="url(#bD)"/>
<rect x="402.8" y="223.75" width="12.6" height="3.5" rx="1.75" fill="#0d0d0d" fill-opacity="0.40" filter="url(#bD)"/>
<rect x="416.38" y="224.15" width="12.6" height="3.3" rx="1.65" fill="#0d0d0d" fill-opacity="0.32" filter="url(#bD)"/>
<rect x="429.71" y="224.45" width="13.1" height="4.3" rx="2.15" fill="#0d0d0d" fill-opacity="0.70" filter="url(#bD)"/>
<rect x="442.54" y="222.95" width="14.6" height="7.3" rx="2.5" fill="#0d0d0d" fill-opacity="1.00" filter="url(#bD)"/>
<rect x="455.92" y="224.15" width="15" height="6.9" rx="2.5" fill="#0d0d0d" fill-opacity="1.00" filter="url(#bD)"/>
<rect x="334.4" y="242.75" width="13.6" height="5.3" rx="2.5" fill="#0d0d0d" fill-opacity="0.82" filter="url(#bD)"/>
<rect x="348.23" y="243.25" width="13.1" height="4.7" rx="2.35" fill="#0d0d0d" fill-opacity="0.72" filter="url(#bD)"/>
<rect x="361.06" y="241.35" width="14.6" height="7.7" rx="2.5" fill="#0d0d0d" fill-opacity="1.00" filter="url(#bD)"/>
<rect x="375.14" y="242.65" width="13.6" height="5.1" rx="2.5" fill="#0d0d0d" fill-opacity="0.82" filter="url(#bD)"/>
<rect x="388.72" y="242.45" width="13.6" height="5.5" rx="2.5" fill="#0d0d0d" fill-opacity="0.90" filter="url(#bD)"/>
<rect x="402.1" y="242.15" width="14" height="5.7" rx="2.5" fill="#0d0d0d" fill-opacity="0.92" filter="url(#bD)"/>
<rect x="416.13" y="242.75" width="13.1" height="5.1" rx="2.5" fill="#0d0d0d" fill-opacity="0.72" filter="url(#bD)"/>
<rect x="428.76" y="240.95" width="15" height="8.1" rx="2.5" fill="#0d0d0d" fill-opacity="1.00" filter="url(#bD)"/>
<rect x="443.29" y="243.75" width="13.1" height="4.5" rx="2.25" fill="#0d0d0d" fill-opacity="0.75" filter="url(#bD)"/>
<rect x="456.62" y="242.55" width="13.6" height="5.7" rx="2.5" fill="#0d0d0d" fill-opacity="0.92" filter="url(#bD)"/>
<rect x="362.36" y="237.5" width="12" height="4" rx="2" fill="#0d0d0d" fill-opacity="0.12" filter="url(#b1)"/>
<rect x="430.26" y="237.25" width="12" height="4.5" rx="2.25" fill="#0d0d0d" fill-opacity="0.15" filter="url(#b1)"/>
<rect x="334.9" y="260.45" width="12.6" height="3.1" rx="1.55" fill="#0d0d0d" fill-opacity="0.27" filter="url(#bD)"/>
<rect x="348.48" y="260.65" width="12.6" height="3.3" rx="1.65" fill="#0d0d0d" fill-opacity="0.42" filter="url(#bD)"/>
<rect x="362.06" y="260.75" width="12.6" height="3.3" rx="1.65" fill="#0d0d0d" fill-opacity="0.38" filter="url(#bD)"/>
<rect x="376.14" y="260.85" width="11.6" height="3.1" rx="1.55" fill="#0d0d0d" fill-opacity="0.27" filter="url(#bD)"/>
<rect x="389.22" y="260.65" width="12.6" height="3.5" rx="1.75" fill="#0d0d0d" fill-opacity="0.40" filter="url(#bD)"/>
<rect x="403.3" y="261.15" width="11.6" height="3.3" rx="1.65" fill="#0d0d0d" fill-opacity="0.38" filter="url(#bD)"/>
<rect x="416.88" y="261.25" width="11.6" height="3.1" rx="1.55" fill="#0d0d0d" fill-opacity="0.32" filter="url(#bD)"/>
<rect x="430.46" y="261.35" width="11.6" height="2.9" rx="1.45" fill="#0d0d0d" fill-opacity="0.22" filter="url(#bD)"/>
<rect x="443.29" y="261.15" width="13.1" height="4.5" rx="2.25" fill="#0d0d0d" fill-opacity="1.00" filter="url(#bD)"/>
<rect x="458.12" y="261.65" width="10.6" height="2.7" rx="1.35" fill="#0d0d0d" fill-opacity="0.07" filter="url(#bD)"/>
<rect x="334" y="278.05" width="14.4" height="6.5" rx="2.5" fill="#0d0d0d" fill-opacity="1.00" filter="url(#bD)"/>
<rect x="347.58" y="278.05" width="14.4" height="6.5" rx="2.5" fill="#0d0d0d" fill-opacity="1.00" filter="url(#bD)"/>
<rect x="361.46" y="278.25" width="13.8" height="5.9" rx="2.5" fill="#0d0d0d" fill-opacity="0.97" filter="url(#bD)"/>
<rect x="375.04" y="278.25" width="13.8" height="5.9" rx="2.5" fill="#0d0d0d" fill-opacity="0.97" filter="url(#bD)"/>
<rect x="388.62" y="278.25" width="13.8" height="5.9" rx="2.5" fill="#0d0d0d" fill-opacity="0.97" filter="url(#bD)"/>
<rect x="402.2" y="278.05" width="13.8" height="5.9" rx="2.5" fill="#0d0d0d" fill-opacity="0.97" filter="url(#bD)"/>
<rect x="416.13" y="278.75" width="13.1" height="4.9" rx="2.45" fill="#0d0d0d" fill-opacity="0.72" filter="url(#bD)"/>
<rect x="429.36" y="278.05" width="13.8" height="5.9" rx="2.5" fill="#0d0d0d" fill-opacity="0.95" filter="url(#bD)"/>
<rect x="442.54" y="277.65" width="14.6" height="7.1" rx="2.5" fill="#0d0d0d" fill-opacity="1.00" filter="url(#bD)"/>
<rect x="456.87" y="278.85" width="13.1" height="5.1" rx="2.5" fill="#0d0d0d" fill-opacity="0.82" filter="url(#bD)"/>
</g>
<text x="314.6" y="191.2" font-size="7.9" class="bl" text-anchor="middle" textLength="13.4" lengthAdjust="spacingAndGlyphs">Bfl-1</text>
<text x="314.6" y="209.4" font-size="7.9" class="bl" text-anchor="middle" textLength="16.8" lengthAdjust="spacingAndGlyphs">Mcl-1</text>
<text x="314.6" y="227.6" font-size="7.9" class="bl" text-anchor="middle" textLength="16" lengthAdjust="spacingAndGlyphs">Bcl-2</text>
<text x="314.6" y="247.1" font-size="7.9" class="bl" text-anchor="middle" textLength="18.5" lengthAdjust="spacingAndGlyphs">Bcl-xL</text>
<text x="314.6" y="263.6" font-size="7.9" class="bl" text-anchor="middle" textLength="17.4" lengthAdjust="spacingAndGlyphs">Bcl-w</text>
<text x="314.6" y="282.6" font-size="7.9" class="bl" text-anchor="middle" textLength="23.2" lengthAdjust="spacingAndGlyphs">GAPDH</text>
<text x="480.8" y="173.9" font-size="7.8" class="bl" textLength="26.6" lengthAdjust="spacingAndGlyphs">MW (kD)</text>
<line x1="474.3" y1="190.3" x2="475.9" y2="190.3" stroke="#141414" stroke-width="0.9"/>
<text x="482" y="192.3" font-size="7.6" class="bl" textLength="7.6" lengthAdjust="spacingAndGlyphs">18</text>
<line x1="474.3" y1="208.2" x2="475.9" y2="208.2" stroke="#141414" stroke-width="0.9"/>
<text x="482" y="210.2" font-size="7.6" class="bl" textLength="7.6" lengthAdjust="spacingAndGlyphs">40</text>
<line x1="474.3" y1="226.9" x2="475.9" y2="226.9" stroke="#141414" stroke-width="0.9"/>
<text x="482" y="228.9" font-size="7.6" class="bl" textLength="7.6" lengthAdjust="spacingAndGlyphs">28</text>
<line x1="474.3" y1="245" x2="475.9" y2="245" stroke="#141414" stroke-width="0.9"/>
<text x="482" y="247" font-size="7.6" class="bl" textLength="7.6" lengthAdjust="spacingAndGlyphs">30</text>
<line x1="474.3" y1="263.2" x2="475.9" y2="263.2" stroke="#141414" stroke-width="0.9"/>
<text x="482" y="265.2" font-size="7.6" class="bl" textLength="7.6" lengthAdjust="spacingAndGlyphs">18</text>
<line x1="474.3" y1="281.5" x2="475.9" y2="281.5" stroke="#141414" stroke-width="0.9"/>
<text x="482" y="283.5" font-size="7.6" class="bl" textLength="7.6" lengthAdjust="spacingAndGlyphs">38</text>
<text x="400.7" y="150.5" font-size="7.9" class="bl" text-anchor="middle" textLength="57.9" lengthAdjust="spacingAndGlyphs">DLBCL PDX Model</text>
<line x1="354.3" y1="154.6" x2="447.8" y2="154.6" stroke="#000" stroke-width="1.3"/>
<text x="350.37" y="168.47" font-size="7.4" class="bl" text-anchor="middle" textLength="20.2" lengthAdjust="spacingAndGlyphs" transform="rotate(-45 350.37 168.47)">LY6934</text>
<text x="363.95" y="168.47" font-size="7.4" class="bl" text-anchor="middle" textLength="20.2" lengthAdjust="spacingAndGlyphs" transform="rotate(-45 363.95 168.47)">LY2214</text>
<text x="377.53" y="168.47" font-size="7.4" class="bl" text-anchor="middle" textLength="20.2" lengthAdjust="spacingAndGlyphs" transform="rotate(-45 377.53 168.47)">LY2298</text>
<text x="391.11" y="168.47" font-size="7.4" class="bl" text-anchor="middle" textLength="20.2" lengthAdjust="spacingAndGlyphs" transform="rotate(-45 391.11 168.47)">LY6933</text>
<text x="404.69" y="168.47" font-size="7.4" class="bl" text-anchor="middle" textLength="20.2" lengthAdjust="spacingAndGlyphs" transform="rotate(-45 404.69 168.47)">LY0257</text>
<text x="418.27" y="168.47" font-size="7.4" class="bl" text-anchor="middle" textLength="20.2" lengthAdjust="spacingAndGlyphs" transform="rotate(-45 418.27 168.47)">LY2264</text>
<text x="431.85" y="168.47" font-size="7.4" class="bl" text-anchor="middle" textLength="20.2" lengthAdjust="spacingAndGlyphs" transform="rotate(-45 431.85 168.47)">LY2345</text>
<text x="445.43" y="168.47" font-size="7.4" class="bl" text-anchor="middle" textLength="20.2" lengthAdjust="spacingAndGlyphs" transform="rotate(-45 445.43 168.47)">LY3604</text>
<text x="459.01" y="168.47" font-size="7.4" class="bl" text-anchor="middle" textLength="28.5" lengthAdjust="spacingAndGlyphs" transform="rotate(-45 459.01 168.47)">Karpas422</text>
<text x="472.69" y="167.67" font-size="7.4" class="bl" text-anchor="middle" textLength="15.4" lengthAdjust="spacingAndGlyphs" transform="rotate(-45 472.69 167.67)">TMD8</text>
<text x="8" y="17.8" font-size="11.9" class="pl" font-weight="bold">A</text>
<text x="269.1" y="17.6" font-size="11.9" class="pl" font-weight="bold">B</text>
<text x="7.5" y="148" font-size="11.9" class="pl" font-weight="bold">C</text>
<text x="268.8" y="147.7" font-size="11.9" class="pl" font-weight="bold">D</text>
<text x="9.2" y="319.8" font-size="11.9" class="pl" font-weight="bold">E</text>
<text x="10.3" y="446.7" font-size="11.9" class="pl" font-weight="bold">F</text>
<text x="7.3" y="574" font-size="11.9" class="pl" font-weight="bold">G</text>
<rect x="0.5" y="0.5" width="519" height="692" fill="none" stroke="#000" stroke-width="1"/>
</svg>
</body></html>
